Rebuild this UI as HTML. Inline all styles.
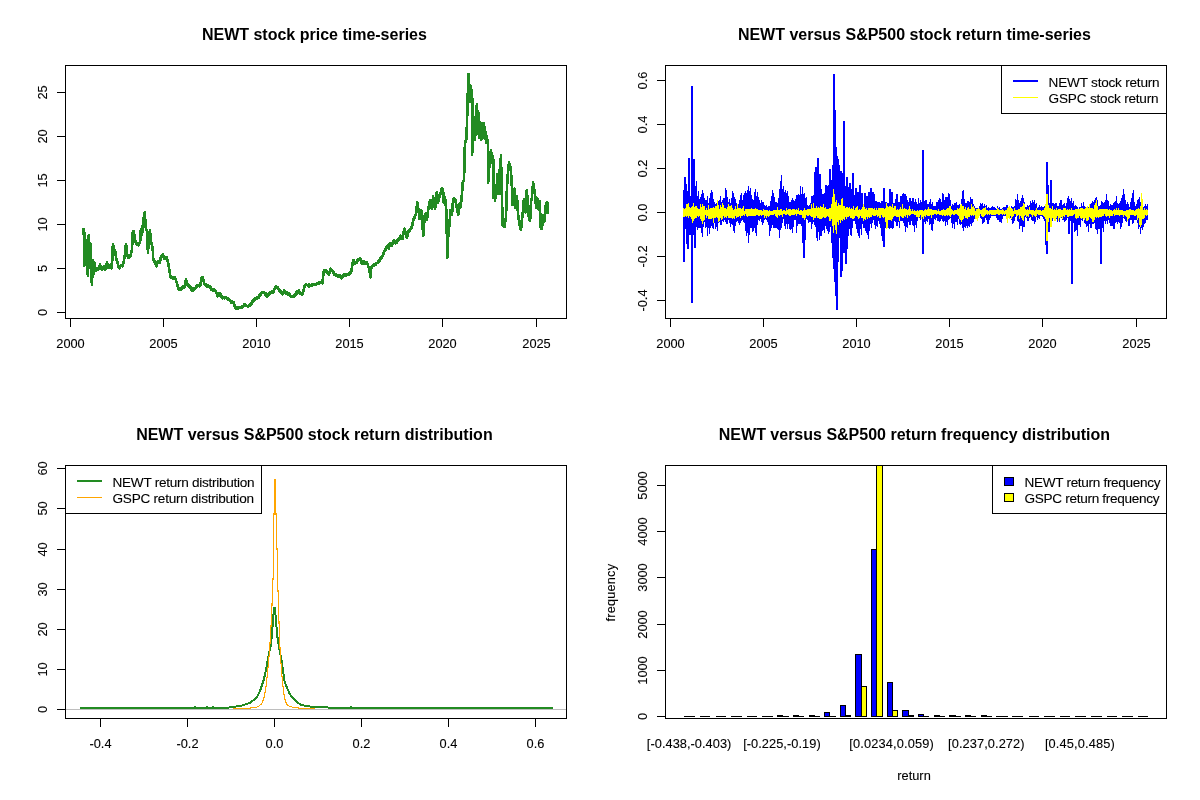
<!DOCTYPE html>
<html><head><meta charset="utf-8"><title>NEWT versus S&amp;P500</title>
<style>html,body{margin:0;padding:0;background:#fff}svg{display:block}text{font-family:"Liberation Sans",sans-serif;fill:#000}.t{font-size:16px;font-weight:bold;text-anchor:middle}.a{font-size:12.8px;text-anchor:middle;stroke:#000;stroke-width:.1px}.l{font-size:13.6px;stroke:#000;stroke-width:.1px}.bx{fill:none;stroke:#000;stroke-width:1}.tk{stroke:#000;stroke-width:1;fill:none}</style></head><body>
<svg width="1200" height="800" viewBox="0 0 1200 800" shape-rendering="crispEdges">
<rect width="1200" height="800" fill="#fff"/>
<g>
<text class="t" x="314.4" y="39.5">NEWT stock price time-series</text>
<path d="M83.8,227.8 83.8,228.5 83.8,229.2 83.8,229.9 83.8,230.6 83.8,231.3 83.8,232 83.8,232.7 83.8,233.4 83.8,234.1 83.8,234.8 83.9,235.5 83.9,236.2 83.9,236.9 83.9,237.6 83.9,238.3 83.9,239 83.9,239.7 83.9,240.4 83.9,241.1 83.9,241.8 83.9,242.5 84,243.2 84,243.9 84,244.6 84,245.3 84,246 84,246.7 84,247.4 84,248.1 84,248.8 84,249.5 84,250.2 84.1,250.9 84.1,251.6 84.1,252.3 84.1,253 84.1,253.7 84.1,254.4 84.1,255.1 84.1,255.8 84.1,256.5 84.1,257.2 84.1,257.9 84.2,258.6 84.2,259.3 84.2,260 84.2,260.7 84.2,261.4 84.2,262.1 84.2,262.8 84.2,263.5 84.2,264.2 84.2,264.9 84.2,265.6 84.3,264.9 84.3,264.2 84.3,263.5 84.3,262.8 84.3,262.1 84.3,261.4 84.4,260.7 84.4,260 84.4,259.3 84.4,258.6 84.4,257.9 84.4,257.1 84.5,256.4 84.5,255.7 84.5,255 84.5,254.3 84.5,253.6 84.5,252.9 84.6,252.2 84.6,251.5 84.6,250.8 84.6,250.1 84.6,249.4 84.6,248.7 84.7,248 84.7,247.3 84.7,246.5 84.7,245.8 84.7,245.1 84.7,244.4 84.8,243.7 84.8,243 84.8,242.3 84.8,241.6 84.8,240.9 84.8,240.2 84.9,239.5 84.9,238.8 84.9,238.1 84.9,237.4 84.9,236.7 84.9,236 85,235.2 85,234.5 85,233.8 85,233.1 85,233.8 85,234.5 85.1,235.3 85.1,236 85.1,236.7 85.1,237.4 85.1,238.1 85.1,238.8 85.2,239.5 85.2,240.2 85.2,241 85.2,241.7 85.2,242.4 85.2,243.1 85.3,243.8 85.3,244.5 85.3,245.2 85.3,245.9 85.3,246.7 85.3,247.4 85.4,248.1 85.4,248.8 85.4,249.5 85.4,250.2 85.4,250.9 85.5,251.6 85.5,252.4 85.5,253.1 85.5,253.8 85.5,254.5 85.5,255.2 85.6,255.9 85.6,256.6 85.6,257.3 85.6,258.1 85.6,258.8 85.6,259.5 85.7,260.2 85.7,260.9 85.7,261.6 85.7,262.3 85.7,263 85.8,263.8 85.8,263 85.8,262.3 85.8,261.6 85.8,260.9 85.8,260.2 85.8,259.5 85.9,258.8 85.9,258.1 85.9,257.4 85.9,256.7 85.9,256 85.9,255.3 86,254.6 86,253.9 86,253.2 86,252.5 86,251.8 86,251.1 86,250.4 86.1,249.7 86.1,249 86.1,248.3 86.1,247.6 86.1,246.9 86.1,246.2 86.2,245.5 86.2,244.8 86.2,244.1 86.2,243.4 86.2,242.7 86.2,242 86.2,241.2 86.3,242 86.3,242.7 86.3,243.4 86.3,244.1 86.3,244.8 86.3,245.6 86.4,246.3 86.4,247 86.4,247.7 86.4,248.4 86.4,249.2 86.4,249.9 86.4,250.6 86.5,251.3 86.5,252 86.5,252.8 86.5,253.5 86.5,254.2 86.5,254.9 86.6,255.6 86.6,256.4 86.6,257.1 86.6,257.8 86.6,258.5 86.6,259.2 86.6,260 86.7,260.7 86.7,261.4 86.7,262.1 86.7,262.8 86.7,263.6 86.7,264.3 86.8,265 86.8,265.7 86.9,266.4 87,267.1 87.1,267.8 87.2,268.5 87.2,269.2 87.3,270 87.4,270.7 87.5,271.4 87.6,272.1 87.7,272.8 87.8,273.5 87.8,274.2 87.9,274.9 88,275.6 88,274.9 88,274.2 88,273.5 88.1,272.8 88.1,272.1 88.1,271.4 88.1,270.7 88.1,270 88.1,269.3 88.1,268.6 88.1,267.9 88.2,267.2 88.2,266.5 88.2,265.8 88.2,265.1 88.2,264.4 88.2,263.7 88.2,263 88.2,262.3 88.3,261.6 88.3,260.9 88.3,260.2 88.3,259.5 88.3,258.8 88.3,258.1 88.3,257.4 88.3,256.7 88.4,256 88.4,255.3 88.4,254.6 88.4,253.9 88.4,253.2 88.4,252.5 88.4,251.8 88.5,251.1 88.5,250.4 88.5,249.7 88.5,249 88.5,248.3 88.5,247.6 88.5,246.9 88.5,246.2 88.6,245.5 88.6,244.8 88.6,244.1 88.6,243.4 88.6,242.7 88.6,242 88.6,241.3 88.6,240.6 88.7,239.9 88.7,239.2 88.7,238.5 88.7,237.8 88.7,237.1 88.7,236.4 88.7,235.7 88.8,235 88.8,235.7 88.8,236.4 88.8,237.1 88.8,237.8 88.8,238.5 88.8,239.2 88.9,239.9 88.9,240.7 88.9,241.4 88.9,242.1 88.9,242.8 88.9,243.5 89,244.2 89,244.9 89,245.6 89,246.3 89,247 89,247.7 89.1,248.4 89.1,249.1 89.1,249.8 89.1,250.5 89.1,251.2 89.1,252 89.2,252.7 89.2,253.4 89.2,254.1 89.2,254.8 89.2,255.5 89.2,256.2 89.3,256.9 89.3,257.6 89.3,258.3 89.3,259 89.3,259.7 89.3,260.4 89.4,261.1 89.4,261.8 89.4,262.6 89.4,263.3 89.4,264 89.4,264.7 89.5,265.4 89.5,266.1 89.5,266.8 89.5,267.5 89.5,266.8 89.5,266.1 89.6,265.3 89.6,264.6 89.6,263.9 89.6,263.2 89.7,262.5 89.7,261.8 89.7,261 89.7,260.3 89.7,259.6 89.8,258.9 89.8,258.2 89.8,257.5 89.8,256.7 89.9,256 89.9,255.3 89.9,254.6 89.9,253.9 89.9,253.2 90,252.4 90,251.7 90,251 90,250.3 90.1,249.6 90.1,248.9 90.1,248.1 90.1,247.4 90.1,246.7 90.2,246 90.2,245.3 90.2,244.6 90.2,243.8 90.2,243.1 90.3,243.8 90.3,244.5 90.3,245.2 90.3,246 90.3,246.7 90.4,247.4 90.4,248.1 90.4,248.8 90.4,249.5 90.4,250.2 90.5,250.9 90.5,251.6 90.5,252.3 90.5,253 90.5,253.7 90.6,254.4 90.6,255.1 90.6,255.9 90.6,256.6 90.6,257.3 90.7,258 90.7,258.7 90.7,259.4 90.7,260.1 90.7,260.8 90.8,261.5 90.8,262.2 90.8,262.9 90.8,263.6 90.8,264.3 90.9,265 90.9,265.8 90.9,266.5 90.9,267.2 90.9,267.9 91,268.6 91,269.3 91,270 91,270.7 91.1,271.4 91.1,272.1 91.2,272.9 91.2,273.6 91.3,274.3 91.3,275 91.4,275.7 91.4,276.4 91.5,277.1 91.5,277.9 91.6,278.6 91.6,279.3 91.7,280 91.7,280.7 91.8,281.4 91.8,282.1 91.9,282.9 91.9,283.6 92,284.3 92,285 92,284.3 92,283.6 92,282.9 92.1,282.1 92.1,281.4 92.1,280.7 92.1,280 92.1,279.3 92.1,278.6 92.1,277.9 92.2,277.1 92.2,276.4 92.2,275.7 92.2,275 92.2,274.3 92.2,273.6 92.2,272.9 92.3,272.1 92.3,271.4 92.3,270.7 92.3,270 92.3,269.3 92.3,268.6 92.3,267.9 92.4,267.1 92.4,266.4 92.4,265.7 92.4,265 92.4,264.3 92.4,263.6 92.4,262.9 92.5,262.1 92.5,261.4 92.5,260.7 92.5,260 92.5,260.7 92.6,261.4 92.7,262.2 92.7,262.9 92.8,263.6 92.8,264.3 92.8,265 92.9,265.8 93,266.5 93,267.2 93,267.9 93.1,268.6 93.2,269.3 93.2,270.1 93.2,270.8 93.3,271.5 93.3,272.2 93.4,272.9 93.5,273.7 93.5,274.4 93.5,273.6 93.6,272.9 93.6,272.1 93.7,271.4 93.7,270.7 93.8,269.9 93.8,269.2 93.9,268.4 93.9,267.7 94,267 94,266.2 94.1,265.5 94.1,264.7 94.2,264 94.2,263.2 94.2,262.5 94.3,263.2 94.4,264 94.5,264.7 94.6,265.5 94.7,266.2 94.8,266.9 94.9,267.7 95,268.4 95.1,269.1 95.2,269.9 95.2,270.6 95.7,270.5 96.1,268.7 96.5,269.3 96.9,268.1 97.3,268.1 97.7,270.1 98.1,270 98.4,269.3 98.6,268.6 98.8,267.9 99.1,267.2 99.3,266.5 99.5,265.8 99.8,265.1 100,264.4 100.2,265.1 100.5,265.8 100.7,266.5 100.9,267.2 101.2,267.9 101.4,268.6 101.6,269.3 101.9,270 102.2,268.9 102.6,268.9 103,266.9 103.4,267.5 103.8,266.2 104.1,266.4 104.5,268.4 104.9,267.5 105.2,269.6 105.6,269.4 105.8,268.6 105.9,267.9 106,267.1 106.2,266.4 106.3,265.6 106.5,264.9 106.6,264.1 106.7,263.4 106.9,262.6 107,261.9 107.1,262.6 107.2,263.3 107.4,264 107.5,264.7 107.6,265.3 107.8,266 107.9,266.7 108,267.4 108.1,268.1 108.5,266.9 108.9,267.6 109.2,265.8 109.6,266.3 110,265 110.4,264.8 110.8,266.9 111.1,266.1 111.5,268.2 111.9,268.1 111.9,267.4 111.9,266.7 112,265.9 112,265.2 112,264.5 112,263.8 112,263.1 112.1,262.3 112.1,261.6 112.1,260.9 112.2,260.1 112.2,259.4 112.2,258.7 112.2,258 112.2,257.2 112.3,256.5 112.3,255.8 112.3,255.1 112.3,254.3 112.4,253.6 112.4,252.9 112.4,252.2 112.5,251.4 112.5,250.7 112.5,250 112.6,249.2 112.6,248.4 112.7,247.7 112.8,246.9 112.8,246.1 112.9,245.3 112.9,244.5 113,243.8 113.1,244.4 113.2,245.1 113.3,245.8 113.4,246.5 113.6,247.2 113.7,247.9 113.8,248.6 113.9,249.3 114,250 114.6,250.2 115.2,251.2 115.3,252 115.5,252.8 115.5,253.5 115.7,254.2 115.8,255 115.8,255.8 116,256.5 116,257.2 116.2,258 116.2,258.8 116.5,259.5 116.8,260.2 117,261 117.2,261.8 117.5,262.5 117.7,263.2 117.8,263.9 118,264.6 118.1,265.3 118.3,266 118.4,266.7 118.6,267.4 118.8,268.1 119.2,268.3 119.7,266.2 120.2,266.8 120.6,265.6 121.6,265.6 122.5,266.2 122.7,265.5 122.9,264.8 123.1,264.1 123.3,263.3 123.5,262.6 123.8,261.9 123.9,261.1 124,260.4 124.1,259.7 124.2,258.9 124.3,258.2 124.4,257.4 124.5,256.7 124.7,256 124.8,255.2 124.9,254.5 125,253.8 125.1,253 125.1,252.3 125.2,251.6 125.3,250.9 125.4,250.2 125.4,249.5 125.5,248.8 125.6,248 125.6,247.3 125.7,246.6 125.8,245.9 125.9,245.2 125.9,244.5 126,243.8 126.1,244.5 126.2,245.2 126.2,245.9 126.3,246.6 126.4,247.3 126.5,248 126.5,248.7 126.6,249.4 126.7,250.1 126.8,250.8 126.9,251.5 126.9,252.2 127,252.9 127.1,253.6 127.2,254.3 127.2,255 127.6,256.6 128,255.9 128.4,258.1 128.8,258.1 129.1,256.7 129.5,257.6 129.9,255.4 130.2,256.2 130.6,255 130.8,254.3 131,253.6 131.2,252.9 131.3,252.1 131.5,251.4 131.7,250.7 131.9,250 131.9,249.3 131.9,248.6 132,247.9 132,247.2 132.1,246.5 132.1,245.8 132.1,245.1 132.2,244.4 132.2,243.7 132.2,243 132.3,242.3 132.3,241.6 132.3,240.9 132.4,240.2 132.4,239.5 132.4,238.8 132.5,238.1 132.5,237.4 132.5,236.7 132.6,236 132.6,235.3 132.6,234.6 132.7,233.9 132.7,233.2 132.8,232.5 133.2,231.1 133.8,231.2 133.8,232 133.9,232.8 134.1,233.5 134.2,234.2 134.2,235 134.3,235.8 134.4,236.5 134.6,237.2 134.7,238 134.8,238.8 135,239.5 135.2,240.2 135.4,240.9 135.6,241.6 135.8,242.3 136,243 136.2,243.8 136.9,244.8 137.5,243.7 138.1,245 138.8,245.2 139.4,243.3 140,243.1 140,242.4 140.1,241.7 140.1,241 140.2,240.2 140.2,239.5 140.3,238.8 140.3,238.1 140.4,237.3 140.4,236.6 140.5,235.9 140.5,235.2 140.6,234.4 140.6,233.7 140.6,233 140.7,232.3 140.7,231.5 140.8,230.8 140.8,230.1 140.9,229.4 141,230.1 141.1,230.8 141.2,231.5 141.4,232.2 141.5,232.9 141.6,233.6 141.8,234.3 141.9,235 141.9,234.3 142,233.6 142.1,232.9 142.2,232.2 142.2,231.5 142.3,230.8 142.4,230.1 142.4,229.3 142.5,228.6 142.6,227.9 142.7,227.2 142.7,226.5 142.8,225.8 142.9,225.1 142.9,224.4 143,223.7 143.1,223 143.1,222.3 143.2,221.6 143.3,220.9 143.4,220.2 143.4,219.5 143.5,218.8 143.6,218 143.8,217.2 143.9,216.5 144.1,215.7 144.2,214.9 144.3,214.2 144.5,213.4 144.6,212.6 144.8,211.9 144.8,212.6 144.8,213.3 144.9,214 144.9,214.7 144.9,215.4 145,216.1 145,216.8 145.1,217.6 145.1,218.3 145.1,219 145.2,219.7 145.2,220.4 145.3,221.1 145.3,221.8 145.3,222.5 145.4,223.2 145.4,223.9 145.5,224.7 145.5,225.4 145.5,226.1 145.6,226.8 145.6,227.5 145.9,228.2 146.1,229 146.4,229.8 146.6,230.5 146.9,231.2 146.9,232 146.9,232.7 147,233.4 147,234.1 147.1,234.8 147.1,235.5 147.1,236.2 147.2,236.9 147.2,237.6 147.2,238.3 147.3,239 147.3,239.8 147.4,240.5 147.4,241.2 147.4,241.9 147.5,242.6 147.5,243.3 147.6,244 147.6,244.7 147.6,245.4 147.7,246.1 147.7,246.8 147.7,247.5 147.8,248.2 147.8,249 147.8,249.7 147.9,250.4 147.9,251.1 148,251.8 148,252.5 148,251.8 148.1,251.1 148.1,250.4 148.1,249.6 148.2,248.9 148.2,248.2 148.2,247.5 148.3,246.8 148.3,246.1 148.4,245.4 148.4,244.6 148.4,243.9 148.5,243.2 148.5,242.5 148.5,241.8 148.6,241.1 148.6,240.4 148.6,239.6 148.7,238.9 148.7,238.2 148.8,237.5 148.9,236.8 149,236 149.1,235.2 149.2,234.5 149.4,233.8 149.5,233 149.6,232.2 149.8,231.5 149.9,230.8 150,230 150,230.7 150.1,231.4 150.1,232.1 150.1,232.8 150.2,233.5 150.2,234.2 150.2,234.9 150.2,235.6 150.3,236.3 150.3,237 150.3,237.7 150.4,238.4 150.4,239.1 150.4,239.8 150.5,240.5 150.5,241.2 150.8,242.5 151.2,242.4 151.5,243.8 151.8,244.5 152,245.2 152.2,246 152.5,246.8 152.8,247.5 152.8,248.2 152.8,248.9 152.8,249.6 152.8,250.3 152.9,251 152.9,251.7 152.9,252.4 152.9,253.1 153,253.8 153,254.5 153,255.2 153,255.9 153.1,256.6 153.1,257.3 153.1,258 153.1,258.8 153.5,260.4 153.9,259.7 154.2,261.7 154.6,261.2 155,262.5 155.2,263.2 155.5,264 155.8,264.8 156,265.5 156.2,266.2 156.5,266.2 156.8,264.3 157.1,264.7 157.3,262.7 157.6,263.4 157.9,261.1 158.1,261.2 158.8,262.4 159.4,261.2 160,262.5 160.1,261.8 160.2,261.1 160.3,260.4 160.4,259.7 160.6,259 160.7,258.3 160.8,257.6 160.9,256.9 161,256.2 161.8,256.4 162.5,255 162.9,254.7 163.2,257 163.6,256.4 164,258.3 164.4,258.1 165.2,257 166,258.6 166.9,257.5 167.1,258.2 167.2,258.9 167.4,259.6 167.6,260.4 167.8,261.1 167.9,261.8 168.1,262.5 168.2,263.2 168.4,264 168.5,264.8 168.6,265.5 168.8,266.2 168.9,267 169,267.8 169.1,268.5 169.2,269.2 169.4,270 169.5,270.8 169.6,271.5 169.8,272.2 169.9,273 170,273.8 170.1,274.5 170.2,275.2 170.4,276 170.5,276.8 170.6,277.5 171.6,277.1 172.5,278.1 173.3,278.7 174.2,277.2 175,277.5 175.2,278.2 175.5,279 175.8,279.8 176,280.5 176.2,281.2 176.5,281.9 176.7,282.6 176.9,283.3 177.1,284 177.3,284.7 177.5,285.4 177.7,286.1 177.9,286.8 178.1,287.5 178.6,288.9 179.1,288.1 179.5,289.9 180,290 180.5,289.1 181,289.8 181.5,287.6 182,288.4 182.5,287.5 183.3,286.5 184.2,287.7 185,286.9 185.1,286.1 185.2,285.4 185.3,284.6 185.4,283.9 185.5,283.1 185.6,282.4 185.7,281.6 185.8,280.9 185.9,280.1 186,279.4 186.2,280.1 186.5,280.8 186.8,281.6 187,282.3 187.2,283 187.5,283.8 187.9,283.9 188.3,285.5 188.8,284.8 189.2,287.1 189.6,286.5 190,287.5 190,286.2 190.4,287.6 190.7,287.1 191.1,288.9 191.4,288.2 191.8,290.2 192.1,289.1 192.5,290.6 193,290.7 193.5,288.7 194.1,289.6 194.6,288.1 195.1,288.7 195.6,287.5 196.1,286.6 196.6,287 197.1,285.4 197.6,286.2 198.1,285 198.8,285 199.4,286.2 200,286.2 200.2,285.5 200.3,284.8 200.5,284.1 200.6,283.3 200.8,282.6 200.9,281.9 201.1,281.1 201.2,280.4 201.4,279.7 201.6,279 201.7,278.2 201.9,277.5 202.5,277.3 203.1,278.8 203.3,279.5 203.5,280.2 203.7,280.9 203.8,281.6 204,282.3 204.2,283 204.4,283.8 204.9,284.8 205.4,283.9 205.9,286.1 206.4,285.2 206.9,286.2 207.7,286.9 208.4,285.6 209.2,287 210,286.2 210.4,286.3 210.8,288.4 211.1,287.8 211.5,290.1 211.9,290 212.6,289.5 213.4,290.8 214.1,289.6 214.9,291 215.6,290.6 215.9,291.3 216.1,292 216.3,292.7 216.6,293.4 216.8,294.1 217,294.8 217.3,295.5 217.5,296.2 218,295.1 218.5,295.9 219,293.7 219.5,294.4 220,293.1 220.3,293.5 220.6,295.2 220.9,294.6 221.2,296.4 221.6,296.1 221.9,297.5 222.7,298.2 223.4,297.1 224.2,298.2 225,297.5 225.8,297.1 226.7,298.6 227.5,298.1 228,298.1 228.5,299.9 229,298.9 229.5,300.5 230,300.6 230.5,300.7 231,302.4 231.5,301.2 232,303.1 232.5,303.1 233.1,301.9 233.8,301.9 233.9,302.6 234.1,303.3 234.2,304 234.4,304.7 234.5,305.4 234.7,306.1 234.8,306.8 235,307.5 235.8,308.4 236.7,307.4 237.5,308.1 238.3,308.5 239.2,307.2 240,307.5 240.8,307.9 241.6,306.5 242.3,307.6 243.1,306.9 243.5,305.5 244,306 244.4,304.4 245,304.5 245.6,306 246.2,305 246.9,306.2 247.8,306.5 248.8,305.6 249.6,304.7 250.4,305.6 251.2,304.4 251.6,303.1 252,303.3 252.4,301.5 252.8,302.1 253.1,300.6 253.8,299.7 254.4,300.2 255,298.7 255.6,298.8 256.5,299.1 257.3,297.3 258.1,297.5 258.5,297.7 258.9,295.8 259.2,296.2 259.6,294.3 260,294.4 260.5,294.7 261,292.8 261.5,293.4 262,291.9 262.5,291.9 263.3,292.9 264.2,292.2 265,293.1 265.4,294.5 265.8,293.6 266.1,295.5 266.5,295.1 266.9,296.2 267.3,296.4 267.8,294.3 268.3,295.2 268.8,293.8 269.6,292.8 270.4,293.3 271.2,292.5 272.1,291.6 272.9,292.5 273.8,291.2 274,290.5 274.2,289.8 274.5,289 274.8,288.2 275,287.5 275.9,286.7 276.9,286.9 277.3,288 277.8,287.5 278.3,289.3 278.8,289.4 279.2,289.4 279.8,291.5 280.2,290.8 280.8,292.2 281.2,292.5 281.9,292 282.5,294.2 283.1,293.8 283.4,292.1 283.8,292.8 284.1,290.5 284.4,290.6 284.8,292.1 285.3,291.4 285.8,293.3 286.2,293.1 287.1,292.5 287.9,294.3 288.8,293.8 289.2,293.7 289.7,295.5 290.2,295.1 290.6,296.2 291.5,296.7 292.3,295.9 293.1,296.2 293.8,296.5 294.4,294.8 295,295.6 295.6,294.4 296,293.4 296.4,294 296.8,291.8 297.1,292.7 297.5,291.2 298.8,290.6 299.1,290.4 299.5,292.7 299.9,291.8 300.2,293.5 300.6,293.8 301.2,293.6 301.9,295 302.3,294.6 302.7,292.8 303.1,292.5 303.3,291.8 303.4,291.1 303.5,290.4 303.7,289.7 303.8,289 304,288.3 304.1,287.6 304.2,286.9 304.4,286.2 305,286.3 305.6,284.4 306.2,284.4 307.2,285.3 308.1,285 308.8,284.5 309.4,286.5 310,286.2 310.6,285.3 311.2,286 311.9,284.3 312.5,285.4 313.1,284.4 314.1,283.9 315,285 315.8,285.1 316.7,283.7 317.5,283.8 318.3,284.1 319.1,282.3 319.8,283.3 320.6,282.5 321.6,282 322.5,283.1 322.6,282.4 322.6,281.7 322.7,281 322.8,280.3 322.8,279.6 322.9,278.9 322.9,278.2 323,277.5 323.1,276.8 323.1,276.1 323.2,275.4 323.2,274.7 323.3,274 323.4,273.3 323.4,272.6 323.5,271.9 324,272.3 324.6,270.1 325.1,271.3 325.6,270 326,270.3 326.4,271.9 326.8,271 327.1,272.9 327.5,273.1 328.1,273.2 328.8,274.4 329.1,274.1 329.4,272.2 329.7,272.6 330,271.2 330,270.4 330,269.6 330,268.8 330.5,268.6 331,270.5 331.5,269.9 332,271.1 332.5,271.2 333,271.4 333.5,272.9 334,272.7 334.5,274.6 335,274.4 335.6,274 336.2,275.7 336.9,275.2 337.5,276.2 338.3,276.6 339.2,275.3 340,275.6 340.5,276.8 340.9,276.2 341.4,278.2 341.9,278.1 342.2,276.9 342.6,277.3 343,275.7 343.4,276.1 343.8,275 344.6,274.3 345.4,275.7 346.2,275 347.1,274.2 347.9,275 348.8,274.4 349.2,273.3 349.8,273.7 350.2,271.8 350.8,272.7 351.2,271.2 351.4,270.5 351.5,269.8 351.6,269 351.8,268.2 351.9,267.5 352,266.8 352.1,266 352.2,265.2 352.4,264.5 352.5,263.8 352.6,263 352.8,262.2 352.9,261.5 353,260.8 353.1,260 353.5,260.2 353.9,262.3 354.2,261.6 354.6,263.6 355,263.8 355.6,262.6 356.2,263.1 356.9,261.9 357.3,260.5 357.8,261.2 358.3,259.3 358.8,259.4 359.4,259.4 360,258.1 360.2,258.8 360.5,259.5 360.7,260.2 360.9,260.9 361.2,261.6 361.4,262.3 361.6,263 361.9,263.8 362.3,262.4 362.7,262.7 363.1,261.2 363.5,261.3 364,263.3 364.4,263.8 365,262.7 365.6,263.5 366.2,262.5 366.9,262.3 367.5,263.8 367.7,264.4 367.9,265.1 368.1,265.8 368.3,266.5 368.5,267.2 368.8,267.9 369,268.6 369.2,269.3 369.4,270 369.5,270.8 369.6,271.5 369.8,272.2 369.9,273 370,273.8 370.1,274.5 370.2,275.2 370.4,276 370.5,276.8 370.6,277.5 370.7,276.8 370.7,276.1 370.8,275.4 370.8,274.6 370.8,273.9 370.9,273.2 370.9,272.5 371,271.8 371,271.1 371.1,270.4 371.1,269.6 371.2,268.9 371.2,268.2 371.2,267.5 371.7,267.7 372.1,265.7 372.5,265.6 373.3,266.1 374.2,264 375,264.4 375.8,264.5 376.7,262.9 377.5,263.1 377.9,262.9 378.3,261.1 378.8,262 379.2,259.8 379.6,260.8 380,259.4 380.5,258 381,258.9 381.5,256.8 382,257.3 382.5,256.2 382.8,254.9 383,255.2 383.3,253.7 383.6,254.2 383.8,252.3 384.1,252.4 384.4,251.2 384.8,250.2 385.1,250.8 385.5,248.9 385.9,249.1 386.2,248.1 386.7,246.5 387.1,246.9 387.5,245.6 387.8,245.6 388.1,247.9 388.4,247.2 388.8,248.8 388.9,248 389.1,247.3 389.2,246.6 389.4,245.9 389.5,245.2 389.7,244.5 389.8,243.8 390,243.1 390.5,244.6 390.9,243.7 391.4,245.8 391.9,245.6 392.1,244.9 392.3,244.2 392.6,243.5 392.8,242.8 393,242.1 393.3,241.4 393.5,240.7 393.8,240 394.1,240.2 394.5,242 394.9,241.2 395.2,243.2 395.6,243.1 396.1,242.1 396.6,242.6 397,240.4 397.5,240.6 398.1,240.4 398.8,238.8 399.4,238.8 399.7,238.6 400,236.4 400.3,236.9 400.6,235.6 401,235.8 401.4,237.4 401.8,236.8 402.1,238.9 402.5,238.8 402.6,238 402.8,237.3 402.9,236.6 403,235.9 403.2,235.2 403.3,234.5 403.4,233.8 403.6,233 403.7,232.3 403.8,231.6 404,230.9 404.1,230.2 404.2,229.5 404.4,228.8 404.6,229.5 404.9,230.2 405.1,231 405.4,231.8 405.6,232.5 405.8,233.2 405.9,233.9 406.1,234.6 406.2,235.3 406.4,236 406.6,236.7 406.7,237.4 406.9,238.1 407,237.4 407.2,236.7 407.3,236 407.4,235.3 407.6,234.7 407.7,234 407.8,233.3 408,232.6 408.1,231.9 408.8,230.7 409.4,231.2 410,230 410.5,228.8 410.9,229.3 411.4,227.5 411.9,227.5 412,226.8 412.1,226 412.2,225.2 412.4,224.5 412.5,223.8 412.6,223 412.8,222.2 412.9,221.5 413,220.8 413.1,220 413.5,219.8 413.9,218.1 414.2,219 414.6,216.9 415,216.9 415.2,216.1 415.4,215.4 415.6,214.7 415.8,214 416,213.2 416.2,212.5 416.3,211.8 416.4,211.1 416.5,210.4 416.5,209.6 416.6,208.9 416.7,208.2 416.8,207.5 416.8,206.8 416.9,206.1 417,205.4 417,204.6 417.1,203.9 417.2,203.2 417.2,202.5 417.4,203.2 417.5,204 417.6,204.8 417.8,205.5 417.9,206.2 418,207 418.1,207.8 418.2,208.5 418.4,209.2 418.5,210 418.6,210.7 418.6,211.5 418.7,212.2 418.8,212.9 418.9,213.6 418.9,214.4 419,215.1 419.1,215.8 419.2,216.6 419.2,217.3 419.3,218 419.4,218.8 420,217.5 420.1,216.8 420.2,216 420.3,215.2 420.4,214.5 420.5,213.8 420.6,213 420.7,212.2 420.8,211.5 420.9,210.8 421,210 421.2,210.7 421.4,211.4 421.5,212.1 421.7,212.9 421.9,213.6 422.1,214.3 422.2,215 422.3,215.7 422.3,216.4 422.3,217.1 422.4,217.8 422.4,218.5 422.4,219.2 422.5,220 422.5,220.7 422.5,221.4 422.5,222.1 422.6,222.8 422.6,223.5 422.6,224.2 422.7,224.9 422.7,225.6 422.7,226.3 422.7,227 422.8,227.8 422.8,228.5 422.8,229.2 422.9,229.9 422.9,230.6 422.9,231.3 422.9,232 423,232.7 423,233.4 423,234.1 423.1,234.8 423.1,235.5 423.1,236.2 423.2,235.5 423.2,234.8 423.3,234.1 423.3,233.4 423.4,232.7 423.5,232 423.5,231.3 423.6,230.6 423.6,229.9 423.7,229.2 423.7,228.5 423.8,227.8 423.8,227.1 423.9,226.4 423.9,225.7 424,224.9 424,224.2 424.1,223.5 424.2,222.8 424.2,222.1 424.3,221.4 424.3,220.7 424.4,220 424.5,219.3 424.7,218.6 424.8,217.9 424.9,217.2 425.1,216.5 425.2,215.8 425.3,215.1 425.5,214.4 425.6,213.8 425.8,214.4 425.9,215.1 426,215.8 426.2,216.5 426.3,217.2 426.5,217.9 426.6,218.6 426.7,219.3 426.9,220 427,219.3 427.1,218.6 427.1,217.9 427.2,217.1 427.3,216.4 427.4,215.7 427.5,215 427.6,214.3 427.7,213.6 427.8,212.9 427.9,212.1 427.9,211.4 428,210.7 428.1,210 428.3,209.3 428.4,208.6 428.5,207.9 428.7,207.1 428.8,206.4 428.9,205.7 429.1,205 429.2,204.3 429.3,203.6 429.5,202.9 429.6,202.1 429.7,201.4 429.9,200.7 430,200 430.2,200.7 430.3,201.5 430.5,202.2 430.6,202.9 430.8,203.6 430.9,204.4 431.1,205.1 431.2,205.8 431.4,206.6 431.6,207.3 431.7,208 431.9,208.8 431.9,208 432,207.3 432.1,206.5 432.2,205.8 432.2,205.1 432.3,204.3 432.4,203.6 432.5,202.9 432.5,202.1 432.6,201.4 432.7,200.7 432.8,199.9 432.8,199.2 432.9,198.5 433,197.7 433.1,197 433.1,196.2 433.2,196.9 433.3,197.6 433.4,198.3 433.5,199 433.6,199.7 433.8,200.4 433.9,201.1 434,201.8 434.1,202.5 434.2,203.2 434.3,203.9 434.4,204.6 434.5,205.3 434.6,206 434.7,206.7 434.8,207.4 434.9,208.1 435,208.8 435.1,208 435.2,207.3 435.2,206.6 435.3,205.9 435.4,205.2 435.5,204.5 435.5,203.8 435.6,203.1 435.7,202.4 435.8,201.7 435.9,201 435.9,200.3 436,199.6 436.1,198.9 436.2,198.2 436.2,197.5 436.3,196.8 436.4,196.1 436.5,195.4 436.6,194.7 436.6,194 436.7,193.3 436.8,192.6 436.9,191.9 437,192.6 437,193.3 437.1,194 437.2,194.7 437.3,195.4 437.4,196.1 437.5,196.8 437.5,197.5 437.6,198.2 437.7,199 437.8,199.7 437.9,200.4 438,201.1 438,201.8 438.1,202.5 438.3,201.8 438.5,201.1 438.6,200.5 438.8,199.8 439,199.1 439.1,198.4 439.3,197.7 439.5,197 439.7,196.4 439.8,195.7 440,195 440.2,194.3 440.4,193.6 440.6,192.9 440.8,192.2 440.9,191.6 441.1,190.9 441.3,190.2 441.5,189.5 441.7,188.8 441.9,188.1 442.2,189.7 442.5,189.2 442.8,191.2 443.1,191.2 443.2,192 443.2,192.7 443.2,193.4 443.3,194.1 443.3,194.8 443.4,195.5 443.4,196.2 443.4,196.9 443.5,197.6 443.5,198.3 443.6,199 443.6,199.7 443.6,200.4 443.7,201.1 443.7,201.8 443.8,202.5 443.9,201.8 444.1,201.1 444.3,200.4 444.5,199.6 444.6,198.9 444.8,198.2 445,197.5 445.1,198.2 445.1,199 445.2,199.7 445.3,200.4 445.4,201.2 445.4,201.9 445.5,202.6 445.6,203.4 445.7,204.1 445.7,204.9 445.8,205.6 445.9,206.3 446,207.1 446,207.8 446.1,208.5 446.2,209.3 446.2,210 446.3,210.7 446.3,211.4 446.3,212.1 446.3,212.8 446.4,213.5 446.4,214.2 446.4,214.9 446.4,215.6 446.4,216.3 446.4,217 446.5,217.7 446.5,218.4 446.5,219.1 446.5,219.8 446.6,220.5 446.6,221.2 446.6,221.9 446.6,222.6 446.6,223.3 446.6,224 446.7,224.7 446.7,225.4 446.7,226.1 446.7,226.8 446.8,227.5 446.8,228.2 446.8,228.9 446.8,229.6 446.8,230.4 446.8,231.1 446.8,231.8 446.8,232.5 446.8,233.2 446.9,233.9 446.9,234.6 446.9,235.4 446.9,236.1 446.9,236.8 446.9,237.5 446.9,238.2 446.9,238.9 447,239.6 447,240.4 447,241.1 447,241.8 447,242.5 447,243.2 447,243.9 447,244.6 447,245.4 447.1,246.1 447.1,246.8 447.1,247.5 447.1,248.2 447.1,248.9 447.1,249.6 447.1,250.4 447.1,251.1 447.2,251.8 447.2,252.5 447.2,253.2 447.2,253.9 447.2,254.6 447.2,255.4 447.2,256.1 447.2,256.8 447.2,257.5 447.3,256.8 447.3,256.1 447.3,255.4 447.4,254.7 447.4,254 447.4,253.3 447.5,252.6 447.5,251.9 447.5,251.2 447.6,250.5 447.6,249.8 447.6,249.1 447.7,248.4 447.7,247.7 447.7,247 447.8,246.2 447.8,245.5 447.8,244.8 447.8,244.1 447.9,243.4 447.9,242.7 447.9,242 448,241.3 448,240.6 448,239.9 448.1,239.2 448.1,238.5 448.1,237.8 448.2,237.1 448.2,236.4 448.2,235.7 448.2,235 448.3,234.3 448.4,233.6 448.5,232.9 448.6,232.1 448.7,231.4 448.7,230.7 448.8,230 448.9,229.3 449,228.6 449.1,227.9 449.1,227.1 449.2,226.4 449.3,225.7 449.4,225 449.4,224.3 449.5,223.6 449.6,222.9 449.6,222.1 449.7,221.4 449.7,220.7 449.8,220 449.9,219.3 449.9,218.6 450,217.9 450,217.1 450.1,216.4 450.1,215.7 450.2,215 450.3,214.3 450.3,213.6 450.4,212.9 450.4,212.1 450.5,211.4 450.6,210.7 450.6,210 450.8,210.7 451,211.4 451.2,212.1 451.3,212.9 451.5,213.6 451.7,214.3 451.9,215 451.9,214.3 452,213.6 452.1,212.9 452.1,212.1 452.2,211.4 452.2,210.7 452.3,210 452.4,209.3 452.4,208.6 452.5,207.9 452.5,207.1 452.6,206.4 452.6,205.7 452.7,205 452.8,204.3 452.8,203.6 452.9,202.9 452.9,202.1 453,201.4 453.1,200.7 453.1,200 453.8,198.8 454.4,199.9 455,198.8 455.2,199.5 455.3,200.2 455.5,200.9 455.6,201.7 455.8,202.4 455.9,203.1 456.1,203.9 456.2,204.6 456.4,205.3 456.6,206 456.7,206.8 456.9,207.5 457,208.2 457.1,209 457.2,209.8 457.4,210.5 457.5,211.2 457.6,212 457.8,212.8 457.9,213.5 458,214.2 458.1,215 458.2,214.3 458.3,213.6 458.4,212.9 458.4,212.2 458.5,211.5 458.6,210.8 458.7,210.1 458.8,209.4 458.8,208.7 458.9,208 459,207.3 459.1,206.6 459.1,205.9 459.2,205.2 459.3,204.5 459.4,203.8 459.6,204.5 459.9,205.2 460.1,206 460.4,206.8 460.6,207.5 460.7,206.8 460.8,206 460.8,205.3 460.9,204.6 461,203.8 461.1,203.1 461.1,202.4 461.2,201.6 461.3,200.9 461.4,200.1 461.4,199.4 461.5,198.7 461.6,197.9 461.7,197.2 461.7,196.5 461.8,195.7 461.9,195 461.9,194.3 462,193.5 462,192.8 462.1,192.1 462.1,191.3 462.2,190.6 462.2,189.9 462.3,189.1 462.3,188.4 462.4,187.6 462.4,186.9 462.5,186.2 462.5,185.4 462.6,184.7 462.6,184 462.7,183.2 462.8,182.5 463.2,181 463.6,181.5 464,180 464,179.3 464,178.6 464,177.9 464.1,177.2 464.1,176.5 464.1,175.8 464.1,175.1 464.1,174.4 464.1,173.7 464.1,173 464.2,172.3 464.2,171.6 464.2,170.9 464.2,170.2 464.2,169.5 464.2,168.8 464.3,168.1 464.3,167.4 464.3,166.7 464.3,166 464.3,165.3 464.3,164.6 464.3,163.9 464.4,163.2 464.4,162.5 464.4,161.8 464.4,161.1 464.4,160.4 464.5,159.6 464.5,158.9 464.5,158.2 464.5,157.5 464.6,156.8 464.6,156.1 464.6,155.4 464.6,154.6 464.6,153.9 464.7,153.2 464.7,152.5 464.7,151.8 464.7,151.1 464.8,150.4 464.8,149.6 464.8,148.9 464.8,148.2 464.8,147.5 464.9,146.8 464.9,146.1 464.9,145.4 464.9,144.6 465,143.9 465,143.2 465,142.5 465.3,141 465.6,141.8 465.9,139.8 466.2,139.9 466.5,138.8 466.5,138 466.5,137.3 466.6,136.6 466.6,135.9 466.6,135.2 466.6,134.5 466.6,133.8 466.7,133.1 466.7,132.4 466.7,131.7 466.7,131 466.8,130.2 466.8,129.5 466.8,128.8 466.8,128.1 466.8,127.4 466.9,126.7 466.9,126 466.9,125.3 466.9,124.6 466.9,123.9 467,123.2 467,122.5 467,121.8 467,121 467,120.3 467.1,119.6 467.1,118.9 467.1,118.2 467.1,117.5 467.1,116.8 467.2,116.1 467.2,115.4 467.2,114.7 467.2,114 467.2,113.2 467.3,112.5 467.3,111.8 467.3,111.1 467.3,110.4 467.4,109.7 467.4,109 467.4,108.3 467.4,107.6 467.4,106.9 467.5,106.2 467.5,105.5 467.5,104.8 467.5,104 467.5,103.3 467.6,102.6 467.6,101.9 467.6,101.2 467.6,100.5 467.6,99.8 467.7,99.1 467.7,98.4 467.7,97.7 467.7,97 467.8,96.2 467.8,95.5 467.8,94.8 467.8,94.1 467.8,93.4 467.9,92.7 467.9,92 467.9,91.3 467.9,90.6 468,89.9 468,89.2 468,88.5 468,87.8 468.1,87.1 468.1,86.4 468.1,85.7 468.1,85 468.2,84.3 468.2,83.5 468.2,82.8 468.2,82.1 468.3,81.4 468.3,80.7 468.3,80 468.3,79.3 468.4,78.6 468.4,77.9 468.4,77.2 468.4,76.5 468.5,75.8 468.5,75.1 468.5,74.4 468.5,75.1 468.6,75.8 468.6,76.5 468.7,77.2 468.7,77.9 468.8,78.6 468.8,79.3 468.9,80 468.9,80.7 469,81.4 469,82.1 469.1,82.8 469.1,83.5 469.2,84.2 469.2,84.9 469.2,85.6 469.3,86.3 469.3,87 469.3,87.7 469.3,88.5 469.4,89.2 469.4,89.9 469.4,90.6 469.4,91.3 469.4,92 469.5,92.7 469.5,93.4 469.5,94.1 469.5,94.8 469.6,95.5 469.6,96.2 469.6,96.9 469.6,97.6 469.6,98.3 469.7,99 469.7,99.8 469.7,100.5 469.7,101.2 469.8,101.9 469.8,101.2 469.8,100.5 469.9,99.7 469.9,99 469.9,98.3 470,97.6 470,96.9 470,96.2 470.1,95.5 470.1,94.8 470.1,94.1 470.2,93.4 470.2,92.6 470.2,91.9 470.3,91.2 470.3,90.5 470.3,89.8 470.4,89.1 470.4,88.4 470.4,87.7 470.5,87 470.5,86.2 470.5,87 470.6,87.7 470.6,88.4 470.6,89.1 470.7,89.8 470.7,90.5 470.7,91.2 470.8,91.9 470.8,92.6 470.8,93.4 470.9,94.1 470.9,94.8 470.9,95.5 471,96.2 471,96.9 471,97.6 471.1,98.3 471.1,99 471.1,99.7 471.2,100.5 471.2,101.2 471.2,101.9 471.3,101.1 471.3,100.4 471.4,99.6 471.4,98.9 471.5,98.2 471.5,97.4 471.6,96.7 471.6,95.9 471.7,95.2 471.7,94.5 471.8,93.7 471.8,93 471.9,92.2 471.9,91.5 472,90.7 472,90 472,90.7 472,91.5 472,92.2 472.1,92.9 472.1,93.7 472.1,94.4 472.1,95.1 472.1,95.9 472.1,96.6 472.1,97.4 472.2,98.1 472.2,98.8 472.2,99.6 472.2,100.3 472.2,101 472.2,101.8 472.2,102.5 472.2,103.2 472.2,103.9 472.2,104.6 472.2,105.3 472.2,106 472.2,106.7 472.2,107.4 472.2,108.1 472.2,108.8 472.2,109.5 472.2,110.2 472.2,110.9 472.2,111.6 472.2,112.3 472.2,113 472.2,113.7 472.2,114.4 472.2,115.1 472.2,115.8 472.2,116.5 472.2,117.2 472.2,117.9 472.2,118.6 472.2,119.3 472.2,120 472.2,120.7 472.2,121.4 472.2,122.1 472.2,122.8 472.1,123.5 472.1,124.2 472.1,124.9 472.1,125.6 472.1,126.3 472.1,127 472.1,127.7 472.1,128.4 472.1,129.1 472.1,129.8 472.1,130.5 472.1,131.2 472.1,131.9 472.1,132.6 472.1,133.3 472.1,134 472.1,134.7 472.1,135.4 472.1,136.1 472.1,136.8 472.1,137.5 472.1,138.2 472.1,138.9 472.1,139.6 472.1,140.3 472.1,141 472.1,141.7 472.1,142.4 472.1,143.1 472.1,143.8 472.1,144.5 472,145.2 472,145.9 472,146.6 472,147.3 472,148 472,148.7 472,149.4 472,150.1 472,150.8 472,151.5 472,152.2 472,152.9 472,153.6 472,154.3 472,155 472.1,154.3 472.1,153.6 472.2,152.9 472.3,152.1 472.4,151.4 472.4,150.7 472.5,150 472.6,149.3 472.6,148.6 472.7,147.9 472.8,147.1 472.9,146.4 472.9,145.7 473,145 473,144.3 473,143.6 473.1,142.9 473.1,142.2 473.1,141.5 473.1,140.8 473.1,140 473.1,139.3 473.1,138.6 473.2,137.9 473.2,137.2 473.2,136.5 473.2,135.8 473.2,135.1 473.2,134.4 473.3,133.7 473.3,133 473.3,132.2 473.3,131.5 473.3,130.8 473.4,130.1 473.4,129.4 473.4,128.7 473.4,128 473.4,127.3 473.4,126.6 473.4,125.9 473.5,125.2 473.5,124.5 473.5,123.8 473.5,124.5 473.6,125.2 473.6,125.9 473.7,126.6 473.7,127.3 473.8,128 473.8,128.7 473.8,129.4 473.9,130.1 473.9,130.8 474,131.5 474,132.2 474.1,132.9 474.1,133.6 474.2,134.3 474.2,135.1 474.2,135.8 474.3,136.5 474.3,137.2 474.4,137.9 474.4,138.6 474.5,139.3 474.5,140 474.5,139.3 474.5,138.6 474.6,137.9 474.6,137.2 474.6,136.5 474.6,135.8 474.7,135.1 474.7,134.4 474.7,133.7 474.7,133 474.8,132.3 474.8,131.6 474.8,130.9 474.8,130.2 474.9,129.5 474.9,128.8 474.9,128 474.9,127.3 474.9,126.6 475,125.9 475,125.2 475,124.5 475,123.8 475.1,123.1 475.1,122.4 475.1,121.7 475.1,121 475.2,120.3 475.2,119.6 475.2,118.9 475.2,118.2 475.2,117.5 475.3,118.2 475.3,118.9 475.4,119.6 475.4,120.3 475.4,121 475.5,121.7 475.5,122.4 475.6,123.1 475.6,123.8 475.6,124.5 475.7,125.2 475.7,125.9 475.8,126.6 475.8,127.3 475.9,128 475.9,128.7 475.9,129.4 476,130.1 476,130.8 476.1,131.5 476.1,132.2 476.1,132.9 476.2,133.6 476.2,134.3 476.2,135 476.3,134.3 476.3,133.6 476.3,132.9 476.3,132.2 476.3,131.4 476.3,130.7 476.3,130 476.4,129.3 476.4,128.6 476.4,127.9 476.4,127.2 476.4,126.5 476.4,125.8 476.4,125.1 476.5,124.3 476.5,123.6 476.5,122.9 476.5,122.2 476.5,121.5 476.5,120.8 476.5,120.1 476.6,119.4 476.6,118.7 476.6,118 476.6,117.2 476.6,116.5 476.6,115.8 476.6,115.1 476.7,114.4 476.7,113.7 476.7,113 476.7,112.3 476.7,111.6 476.7,110.9 476.7,110.1 476.8,109.4 476.8,108.7 476.8,108 476.8,107.3 476.8,106.6 476.8,105.9 476.8,105.2 476.9,104.5 476.9,103.8 476.9,104.5 476.9,105.2 477,105.9 477,106.6 477,107.3 477.1,108 477.1,108.8 477.1,109.5 477.2,110.2 477.2,110.9 477.2,111.6 477.2,112.3 477.3,113 477.3,113.8 477.3,114.5 477.4,115.2 477.4,115.9 477.4,116.6 477.5,117.3 477.5,118 477.5,118.8 477.6,119.5 477.6,120.2 477.6,120.9 477.7,121.6 477.7,122.3 477.7,123 477.8,123.8 477.8,123 477.9,122.3 477.9,121.6 477.9,120.9 478,120.2 478.1,119.5 478.1,118.8 478.1,118.1 478.2,117.4 478.2,116.7 478.3,116 478.4,115.2 478.4,114.5 478.4,113.8 478.5,113.1 478.5,113.8 478.5,114.6 478.6,115.3 478.6,116 478.6,116.7 478.6,117.4 478.7,118.1 478.7,118.9 478.7,119.6 478.7,120.3 478.7,121 478.8,121.7 478.8,122.4 478.8,123.2 478.8,123.9 478.9,124.6 478.9,125.3 478.9,126 478.9,126.7 478.9,127.5 479,128.2 479,128.9 479,129.6 479,130.3 479.1,131 479.1,131.8 479.1,132.5 479.1,133.2 479.1,133.9 479.2,134.6 479.2,135.3 479.2,136.1 479.2,136.8 479.2,137.5 479.3,136.8 479.3,136.1 479.4,135.4 479.4,134.6 479.5,133.9 479.5,133.2 479.6,132.5 479.6,131.8 479.7,131.1 479.7,130.4 479.8,129.6 479.8,128.9 479.9,128.2 479.9,127.5 480,126.8 480,126.1 480.1,125.4 480.1,124.6 480.2,123.9 480.2,123.2 480.2,122.5 480.3,123.2 480.3,123.9 480.4,124.6 480.4,125.3 480.5,126 480.5,126.7 480.5,127.4 480.6,128.1 480.6,128.8 480.7,129.5 480.7,130.2 480.8,130.9 480.8,131.6 480.8,132.3 480.9,133 480.9,133.8 481,134.5 481,135.2 481,135.9 481.1,136.6 481.1,137.3 481.2,138 481.2,138.7 481.2,139.4 481.3,138.7 481.3,138 481.4,137.3 481.4,136.5 481.5,135.8 481.5,135.1 481.6,134.4 481.6,133.7 481.6,133 481.7,132.3 481.7,131.6 481.8,130.9 481.8,130.2 481.9,129.5 481.9,128.8 481.9,128.1 482,127.4 482,126.7 482.1,126 482.1,125.2 482.2,124.5 482.2,123.8 482.2,123.1 482.3,123.8 482.3,124.6 482.4,125.3 482.4,126 482.5,126.7 482.5,127.4 482.6,128.1 482.6,128.8 482.7,129.6 482.7,130.3 482.8,131 482.8,131.7 482.9,132.4 482.9,133.1 483,133.8 483,134.6 483.1,135.3 483.1,136 483.2,136.7 483.2,137.4 483.2,138.1 483.3,137.4 483.3,136.7 483.4,136 483.4,135.3 483.4,134.6 483.5,133.8 483.5,133.1 483.5,132.4 483.6,131.7 483.6,131 483.6,130.3 483.7,129.6 483.7,128.8 483.8,128.1 483.8,127.4 483.8,126.7 483.9,126 483.9,125.3 483.9,124.6 484,123.8 484,123.1 484,123.8 484.1,124.5 484.1,125.3 484.2,126 484.2,126.7 484.3,127.4 484.3,128.1 484.4,128.8 484.4,129.5 484.5,130.2 484.5,130.9 484.5,131.6 484.6,132.4 484.6,133.1 484.7,133.8 484.7,134.5 484.8,135.2 484.8,135.9 484.9,136.6 484.9,137.3 485,138 485,138.8 485.1,138 485.2,137.2 485.3,136.5 485.4,135.7 485.6,134.9 485.7,134.2 485.8,133.4 485.9,132.6 486,131.9 486,132.6 486.1,133.3 486.1,134 486.1,134.7 486.2,135.4 486.2,136.1 486.2,136.8 486.2,137.5 486.3,138.2 486.3,138.9 486.3,139.6 486.4,140.3 486.4,141 486.4,141.7 486.5,142.4 486.5,143.1 486.9,141.7 487.3,142.7 487.7,140.6 488.1,140.6 488.1,141.3 488.1,142 488.1,142.8 488.1,143.5 488.1,144.2 488.1,144.9 488.1,145.6 488.1,146.3 488.1,147 488.1,147.7 488.1,148.4 488.1,149.1 488.1,149.9 488.1,150.6 488.1,151.3 488.1,152 488.1,152.7 488.1,153.4 488.1,154.1 488.1,154.8 488.1,155.5 488.1,156.2 488.1,156.9 488.1,157.7 488.1,158.4 488.1,159.1 488.1,159.8 488.1,160.5 488.1,161.2 488.1,161.9 488.1,162.6 488.1,163.3 488.1,164 488.1,164.8 488.1,165.5 488.1,166.2 488.1,166.9 488.1,167.6 488.1,168.3 488.1,169 488.1,169.7 488.1,170.4 488.1,171.1 488.1,171.9 488.1,172.6 488.1,173.3 488.1,174 488.1,174.7 488.1,175.4 488.1,176.1 488.1,176.8 488.1,177.5 488.1,178.2 488.1,179 488.1,179.7 488.1,180.4 488.1,181.1 488.1,181.8 488.1,182.5 488.2,181.8 488.2,181.1 488.3,180.4 488.3,179.7 488.4,179 488.4,178.3 488.5,177.6 488.5,176.9 488.6,176.2 488.6,175.5 488.7,174.8 488.7,174.1 488.8,173.4 488.8,172.7 488.9,172 488.9,171.3 489,170.6 489,169.9 489.1,169.2 489.1,168.5 489.2,167.8 489.2,167.1 489.3,166.4 489.3,165.7 489.4,165 489.5,164.3 489.5,163.6 489.6,162.9 489.7,162.1 489.8,161.4 489.8,160.7 489.9,160 490,159.3 490.1,158.6 490.1,157.9 490.2,157.1 490.3,156.4 490.4,155.7 490.5,155 490.5,154.3 490.6,153.6 490.7,152.9 490.8,152.1 490.8,151.4 490.9,150.7 491,150 491.1,150.7 491.1,151.5 491.2,152.2 491.2,152.9 491.3,153.7 491.3,154.4 491.4,155.1 491.4,155.9 491.5,156.6 491.5,157.4 491.6,158.1 491.6,158.8 491.7,159.6 491.7,160.3 491.8,161 491.8,161.8 491.9,162.5 492,161.8 492.2,161.1 492.3,160.4 492.4,159.7 492.6,159 492.7,158.3 492.8,157.6 493,156.9 493.1,156.2 493.1,157 493.1,157.7 493.1,158.4 493.2,159.1 493.2,159.8 493.2,160.5 493.2,161.2 493.2,161.9 493.2,162.7 493.2,163.4 493.2,164.1 493.2,164.8 493.2,165.5 493.2,166.2 493.2,166.9 493.2,167.6 493.2,168.3 493.2,169.1 493.2,169.8 493.3,170.5 493.3,171.2 493.3,171.9 493.3,172.6 493.3,173.3 493.3,174 493.3,174.7 493.3,175.5 493.3,176.2 493.3,176.9 493.3,177.6 493.3,178.3 493.3,179 493.3,179.7 493.3,180.4 493.4,181.1 493.4,181.9 493.4,182.6 493.4,183.3 493.4,184 493.4,184.7 493.4,185.4 493.4,186.1 493.4,186.8 493.4,187.5 493.4,188.3 493.4,189 493.4,189.7 493.4,190.4 493.4,191.1 493.4,191.8 493.5,192.5 493.5,193.2 493.5,193.9 493.5,194.7 493.5,195.4 493.5,196.1 493.5,196.8 493.5,197.5 493.6,196.8 493.6,196.1 493.7,195.4 493.8,194.6 493.9,193.9 493.9,193.2 494,192.5 494.1,191.8 494.1,191.1 494.2,190.4 494.3,189.6 494.4,188.9 494.4,188.2 494.5,187.5 494.5,188.2 494.6,188.9 494.6,189.7 494.6,190.4 494.6,191.1 494.7,191.8 494.7,192.6 494.7,193.3 494.7,194 494.8,194.7 494.8,195.5 494.8,196.2 494.8,196.9 494.9,197.6 494.9,198.4 494.9,199.1 494.9,199.8 495,200.5 495,201.2 495,200.5 495.1,199.8 495.1,199.1 495.2,198.4 495.2,197.6 495.2,196.9 495.3,196.2 495.3,195.5 495.4,194.7 495.4,194 495.4,193.3 495.5,192.6 495.5,191.8 495.6,191.1 495.6,190.4 495.6,189.7 495.7,188.9 495.7,188.2 495.8,187.5 495.8,188.3 495.9,189.1 496,189.8 496.1,190.6 496.2,191.4 496.3,192.2 496.4,193 496.5,193.8 496.5,193 496.6,192.3 496.6,191.6 496.6,190.9 496.6,190.2 496.7,189.5 496.7,188.8 496.7,188 496.7,187.3 496.8,186.6 496.8,185.9 496.8,185.2 496.8,184.5 496.9,183.8 496.9,183 496.9,182.3 497,181.6 497,180.9 497,180.2 497,179.5 497.1,178.8 497.1,178 497.1,177.3 497.1,176.6 497.2,175.9 497.2,175.2 497.2,174.5 497.2,173.8 497.3,174.5 497.3,175.2 497.3,175.9 497.4,176.6 497.4,177.3 497.4,178 497.5,178.8 497.5,179.5 497.5,180.2 497.6,180.9 497.6,181.6 497.6,182.3 497.7,183 497.7,183.8 497.7,184.5 497.8,185.2 497.8,185.9 497.8,186.6 497.8,187.3 497.9,188 497.9,188.8 497.9,189.5 498,190.2 498,190.9 498,191.6 498.1,192.3 498.1,193 498.1,193.8 498.2,193 498.2,192.3 498.2,191.6 498.2,190.9 498.3,190.2 498.3,189.5 498.3,188.8 498.3,188.1 498.4,187.4 498.4,186.7 498.4,186 498.4,185.3 498.5,184.6 498.5,183.9 498.5,183.2 498.5,182.5 498.6,181.8 498.6,181.1 498.6,180.4 498.7,179.7 498.7,179 498.7,178.3 498.7,177.6 498.8,176.9 498.8,176.2 498.8,175.5 498.8,174.8 498.9,174.1 498.9,173.4 498.9,172.7 498.9,172 499,171.3 499,170.6 499,171.3 499,172 499.1,172.7 499.1,173.4 499.1,174.1 499.1,174.8 499.2,175.5 499.2,176.2 499.2,176.9 499.2,177.6 499.2,178.3 499.3,179 499.3,179.7 499.3,180.4 499.3,181.1 499.4,181.8 499.4,182.5 499.4,183.2 499.4,183.9 499.5,184.6 499.5,185.3 499.5,186 499.5,186.7 499.5,187.4 499.6,188.1 499.6,188.8 499.6,189.5 499.6,190.2 499.7,190.9 499.7,191.6 499.7,192.3 499.7,193 499.8,193.8 499.8,193 499.8,192.3 499.8,191.6 499.8,190.9 499.8,190.2 499.9,189.5 499.9,188.8 499.9,188.1 499.9,187.4 499.9,186.7 500,186 500,185.3 500,184.6 500,183.9 500,183.2 500,182.5 500.1,181.8 500.1,181.1 500.1,180.4 500.1,179.7 500.1,179 500.2,178.3 500.2,177.6 500.2,176.9 500.2,176.2 500.2,175.5 500.2,174.8 500.3,174.1 500.3,173.4 500.3,172.7 500.3,172 500.3,171.3 500.4,170.6 500.4,169.9 500.4,169.2 500.4,168.5 500.4,167.8 500.4,167.1 500.5,166.4 500.5,165.7 500.5,165 500.5,164.3 500.6,163.6 500.6,162.9 500.6,162.1 500.7,161.4 500.7,160.7 500.8,160 500.8,159.3 500.8,158.6 500.9,157.9 500.9,157.1 500.9,156.4 501,155.7 501,155 501,155.7 501,156.4 501,157.1 501,157.8 501,158.5 501.1,159.2 501.1,159.9 501.1,160.6 501.1,161.3 501.1,162 501.1,162.8 501.1,163.5 501.1,164.2 501.1,164.9 501.1,165.6 501.1,166.3 501.2,167 501.2,167.7 501.2,168.4 501.2,169.1 501.2,169.8 501.2,170.5 501.2,171.2 501.2,171.9 501.2,172.6 501.2,173.3 501.2,174 501.3,174.7 501.3,175.4 501.3,176.1 501.3,176.8 501.3,177.5 501.3,178.2 501.3,179 501.3,179.7 501.3,180.4 501.3,181.1 501.3,181.8 501.4,182.5 501.4,183.2 501.4,183.9 501.4,184.6 501.4,185.3 501.4,186 501.4,186.7 501.4,187.4 501.4,188.1 501.4,188.8 501.4,189.5 501.5,190.2 501.5,190.9 501.5,191.6 501.5,192.3 501.5,193 501.5,193.8 501.9,192.5 501.9,193.2 501.9,193.9 501.9,194.6 501.9,195.3 501.9,196 502,196.7 502,197.4 502,198.2 502,198.9 502,199.6 502,200.3 502,201 502.1,201.7 502.1,202.4 502.1,203.1 502.1,203.8 502.1,204.5 502.1,205.2 502.1,205.9 502.1,206.6 502.2,207.3 502.2,208 502.2,208.8 502.2,209.5 502.2,210.2 502.2,210.9 502.2,211.6 502.3,212.3 502.3,213 502.3,213.7 502.3,214.4 502.3,215.1 502.3,215.8 502.3,216.5 502.4,217.2 502.4,217.9 502.4,218.6 502.4,219.3 502.4,220.1 502.4,220.8 502.4,221.5 502.4,222.2 502.5,222.9 502.5,223.6 502.5,224.3 502.5,225 503.1,226.2 503.8,225.5 504.4,226.9 504.5,226.2 504.6,225.4 504.8,224.7 504.9,224 505,223.3 505.1,222.5 505.2,221.8 505.4,221.1 505.5,220.4 505.6,219.7 505.8,218.9 505.9,218.2 506,217.5 506,216.8 506,216.1 506.1,215.4 506.1,214.6 506.1,213.9 506.1,213.2 506.1,212.5 506.1,211.8 506.2,211.1 506.2,210.4 506.2,209.6 506.2,208.9 506.2,208.2 506.2,207.5 506.3,206.8 506.3,206.1 506.3,205.4 506.3,204.6 506.3,203.9 506.4,203.2 506.4,202.5 506.4,201.8 506.4,201.1 506.4,200.4 506.4,199.6 506.5,198.9 506.5,198.2 506.5,197.5 506.5,196.8 506.6,196.1 506.6,195.4 506.6,194.6 506.7,193.9 506.7,193.2 506.8,192.5 506.8,191.8 506.8,191.1 506.9,190.4 506.9,189.6 506.9,188.9 507,188.2 507,187.5 507,186.8 507.1,186.1 507.1,185.4 507.1,184.6 507.2,183.9 507.2,183.2 507.2,182.5 507.3,181.8 507.3,181.1 507.4,180.4 507.4,179.6 507.4,178.9 507.5,178.2 507.5,177.5 507.6,176.8 507.6,176.1 507.7,175.4 507.8,174.6 507.9,173.9 507.9,173.2 508,172.5 508.1,171.8 508.1,171.1 508.2,170.4 508.3,169.6 508.4,168.9 508.4,168.2 508.5,167.5 508.6,166.8 508.6,166.1 508.7,165.4 508.8,164.6 508.9,163.9 508.9,163.2 509,162.5 509.2,163.2 509.5,163.9 509.7,164.6 509.9,165.4 510.2,166.1 510.4,166.8 510.6,167.5 510.7,168.2 510.7,168.9 510.8,169.7 510.8,170.4 510.9,171.1 510.9,171.8 511,172.5 511,173.3 511.1,174 511.1,174.7 511.2,175.4 511.2,176.2 511.2,176.9 511.3,177.6 511.3,178.3 511.4,179 511.4,179.8 511.5,180.5 511.5,181.2 511.6,181.9 511.6,182.6 511.7,183.4 511.7,184.1 511.8,184.8 511.8,185.5 511.9,186.2 511.9,187 511.9,187.7 511.9,188.4 512,189.1 512,189.9 512,190.6 512,191.3 512.1,192 512.1,192.7 512.1,193.5 512.1,194.2 512.2,194.9 512.2,195.6 512.2,196.3 512.2,197.1 512.3,197.8 512.3,198.5 512.3,199.2 512.3,200 512.4,200.7 512.4,201.4 512.4,202.1 512.4,202.8 512.5,203.6 512.5,204.3 512.5,205 512.6,204.3 512.7,203.6 512.7,202.9 512.8,202.2 512.9,201.5 513,200.8 513.1,200.1 513.2,199.3 513.2,198.6 513.3,197.9 513.4,197.2 513.5,196.5 513.6,195.8 513.6,195.1 513.7,194.4 513.8,193.7 513.9,193 514,192.3 514,191.6 514.1,190.9 514.2,190.2 514.3,189.5 514.4,188.8 514.4,189.5 514.4,190.2 514.4,190.9 514.5,191.6 514.5,192.4 514.5,193.1 514.5,193.8 514.6,194.5 514.6,195.2 514.6,196 514.6,196.7 514.7,197.4 514.7,198.1 514.7,198.8 514.7,199.6 514.8,200.3 514.8,201 514.8,201.7 514.8,202.5 514.9,203.2 514.9,203.9 514.9,204.6 514.9,205.3 515,206.1 515,206.8 515,207.5 515.1,206.8 515.2,206.1 515.4,205.4 515.5,204.7 515.6,204 515.7,203.3 515.8,202.6 515.9,201.9 516.1,201.2 516.2,200.5 516.3,199.8 516.4,199.1 516.5,198.4 516.6,197.7 516.8,197 516.9,196.2 516.9,197 517,197.7 517,198.4 517.1,199.1 517.1,199.9 517.2,200.6 517.2,201.3 517.3,202 517.3,202.7 517.4,203.5 517.4,204.2 517.5,204.9 517.5,205.6 517.5,206.3 517.6,207.1 517.6,207.8 517.7,208.5 517.7,209.2 517.8,210 517.8,210.7 517.9,211.4 517.9,212.1 518,212.8 518,213.6 518.1,214.3 518.1,215 518.2,215.7 518.3,216.5 518.4,217.2 518.5,217.9 518.6,218.6 518.8,219.4 518.9,220.1 519,220.8 519.1,221.6 519.2,222.3 519.3,223 519.4,223.8 519.6,224.4 519.7,225.1 519.9,225.8 520.1,226.5 520.3,227.2 520.5,227.9 520.6,228.6 520.8,229.3 521,230 521.1,229.3 521.1,228.6 521.2,227.9 521.2,227.1 521.3,226.4 521.4,225.7 521.4,225 521.5,224.3 521.6,223.6 521.6,222.9 521.7,222.1 521.8,221.4 521.8,220.7 521.9,220 522,219.3 522.1,218.6 522.1,217.9 522.2,217.1 522.3,216.4 522.4,215.7 522.5,215 522.6,214.3 522.7,213.6 522.8,212.9 522.9,212.1 522.9,211.4 523,210.7 523.1,210 523.2,209.3 523.2,208.6 523.3,207.9 523.3,207.2 523.4,206.5 523.5,205.8 523.5,205.1 523.6,204.4 523.6,203.7 523.7,203 523.7,202.3 523.8,201.6 523.8,200.9 523.9,200.2 523.9,199.5 524,198.8 524.1,199.5 524.2,200.2 524.3,200.9 524.3,201.6 524.4,202.4 524.5,203.1 524.6,203.8 524.7,204.5 524.8,205.3 524.9,206 524.9,206.7 525,207.4 525.1,208.2 525.2,208.9 525.3,209.6 525.4,210.3 525.5,211.1 525.5,211.8 525.6,212.5 525.7,211.8 525.7,211.1 525.7,210.4 525.8,209.7 525.8,209 525.9,208.3 525.9,207.6 525.9,206.9 526,206.2 526,205.5 526.1,204.8 526.1,204.1 526.1,203.4 526.2,202.7 526.2,202 526.2,201.2 526.3,200.5 526.3,199.8 526.4,199.1 526.4,198.4 526.4,197.7 526.5,197 526.5,196.3 526.6,195.6 526.6,194.9 526.6,194.2 526.7,193.5 526.7,192.8 526.8,192.1 526.8,191.4 526.8,190.7 526.9,190 526.9,190.7 527,191.4 527,192.2 527,192.9 527.1,193.6 527.1,194.3 527.1,195 527.2,195.8 527.2,196.5 527.3,197.2 527.3,197.9 527.3,198.6 527.4,199.4 527.4,200.1 527.4,200.8 527.5,201.5 527.5,202.2 527.6,203 527.6,203.7 527.6,204.4 527.7,205.1 527.7,205.8 527.7,206.6 527.8,207.3 527.8,208 527.9,208.7 527.9,209.4 527.9,210.2 528,210.9 528,211.6 528,212.3 528.1,213 528.1,213.8 528.3,214.4 528.5,215.1 528.6,215.8 528.8,216.5 529,217.2 529.1,217.8 529.3,218.5 529.5,219.2 529.7,219.9 529.8,220.6 530,221.2 530,220.5 530.1,219.8 530.1,219.1 530.2,218.4 530.2,217.6 530.2,216.9 530.3,216.2 530.3,215.5 530.3,214.8 530.4,214 530.4,213.3 530.5,212.6 530.5,211.9 530.5,211.2 530.6,210.4 530.6,209.7 530.7,209 530.7,208.3 530.7,207.5 530.8,206.8 530.8,206.1 530.8,205.4 530.9,204.7 530.9,203.9 531,203.2 531,202.5 531.1,201.8 531.2,201.1 531.4,200.4 531.5,199.6 531.6,198.9 531.8,198.2 531.9,197.5 531.9,196.8 532,196.1 532.1,195.4 532.1,194.6 532.2,193.9 532.2,193.2 532.3,192.5 532.4,191.8 532.4,191.1 532.5,190.4 532.5,189.6 532.6,188.9 532.6,188.2 532.7,187.5 532.8,186.8 532.8,186.1 532.9,185.4 532.9,184.6 533,183.9 533.1,183.2 533.1,182.5 533.2,183.2 533.4,183.9 533.5,184.6 533.6,185.4 533.7,186.1 533.8,186.8 533.9,187.5 534.1,188.2 534.2,188.9 534.3,189.6 534.4,190.4 534.5,191.1 534.6,191.8 534.8,192.5 534.8,193.2 534.9,193.9 535,194.6 535,195.3 535.1,196.1 535.2,196.8 535.2,197.5 535.3,198.2 535.4,198.9 535.4,199.6 535.5,200.3 535.6,201 535.6,201.7 535.7,202.4 535.8,203.2 535.8,203.9 535.9,204.6 536,205.3 536,206 536.1,206.7 536.2,207.4 536.2,208.1 536.3,207.4 536.4,206.7 536.5,206 536.6,205.2 536.7,204.5 536.8,203.8 536.9,203.1 537,202.4 537.1,201.6 537.2,200.9 537.3,200.2 537.4,199.5 537.5,198.8 537.6,199.5 537.7,200.2 537.8,200.9 537.8,201.6 537.9,202.3 538,203 538.1,203.7 538.2,204.4 538.2,205.1 538.3,205.8 538.4,206.5 538.5,207.2 538.6,208 538.7,208.7 538.8,209.4 538.8,208.6 538.9,207.9 539,207.2 539.1,206.4 539.2,205.7 539.3,204.9 539.4,204.2 539.5,203.5 539.6,202.7 539.7,202 539.8,201.2 539.8,202 539.8,202.7 539.8,203.4 539.8,204.1 539.9,204.8 539.9,205.5 539.9,206.2 539.9,206.9 540,207.6 540,208.3 540,209.1 540,209.8 540.1,210.5 540.1,211.2 540.1,211.9 540.1,212.6 540.2,213.3 540.2,214 540.2,214.7 540.2,215.4 540.2,216.1 540.3,216.9 540.3,217.6 540.3,218.3 540.3,219 540.4,219.7 540.4,220.4 540.4,221.1 540.4,221.8 540.5,222.5 540.5,223.2 540.5,224 540.5,224.7 540.6,225.4 540.6,226.1 540.6,226.8 540.6,227.5 541.2,228.6 541.9,228.8 541.9,228 542,227.3 542.1,226.6 542.1,225.9 542.2,225.1 542.3,224.4 542.3,223.7 542.4,223 542.5,222.2 542.5,221.5 542.6,220.8 542.7,220.1 542.7,219.3 542.8,218.6 542.9,217.9 542.9,217.2 543,216.4 543.1,215.7 543.1,215 543.3,215.7 543.4,216.4 543.5,217.1 543.7,217.8 543.8,218.5 544,219.2 544.1,219.9 544.2,220.6 544.4,221.2 544.4,220.5 544.5,219.8 544.5,219.1 544.6,218.4 544.6,217.7 544.7,217 544.7,216.2 544.8,215.5 544.8,214.8 544.9,214.1 544.9,213.4 544.9,212.7 545,212 545,211.2 545.1,210.5 545.1,209.8 545.2,209.1 545.2,208.4 545.3,207.7 545.3,207 545.4,206.2 545.8,205 546.1,205.2 546.5,203.3 546.9,203.8 547.2,202.5 547.2,203.2 547.2,203.9 547.2,204.6 547.2,205.3 547.2,206 547.2,206.7 547.2,207.4 547.2,208.1 547.2,208.8 547.2,209.5 547.2,210.2 547.2,210.9 547.2,211.6 547.2,212.3 547.2,213 547.2,213.8" fill="none" stroke="#228B22" stroke-width="2.7" stroke-linejoin="round"/>
<rect class="bx" x="65.5" y="65.5" width="501" height="253"/>
<path class="tk" d="M70.5,318.5 H536.5 M70.5,318.5 v8.5 M163.5,318.5 v8.5 M256.5,318.5 v8.5 M349.5,318.5 v8.5 M442.5,318.5 v8.5 M536.5,318.5 v8.5"/>
<text class="a" x="70.5" y="347.5">2000</text>
<text class="a" x="163.5" y="347.5">2005</text>
<text class="a" x="256.5" y="347.5">2010</text>
<text class="a" x="349.5" y="347.5">2015</text>
<text class="a" x="442.5" y="347.5">2020</text>
<text class="a" x="536.5" y="347.5">2025</text>
<path class="tk" d="M65.5,92.5 V312.5 M65.5,312.5 h-8.5 M65.5,268.5 h-8.5 M65.5,224.5 h-8.5 M65.5,180.5 h-8.5 M65.5,136.5 h-8.5 M65.5,92.5 h-8.5"/>
<text class="a" transform="translate(46.5,312.5) rotate(-90)">0</text>
<text class="a" transform="translate(46.5,268.5) rotate(-90)">5</text>
<text class="a" transform="translate(46.5,224.5) rotate(-90)">10</text>
<text class="a" transform="translate(46.5,180.5) rotate(-90)">15</text>
<text class="a" transform="translate(46.5,136.5) rotate(-90)">20</text>
<text class="a" transform="translate(46.5,92.5) rotate(-90)">25</text>
</g>
<g>
<text class="t" x="914.4" y="39.5">NEWT versus S&amp;P500 stock return time-series</text>
<path d="M683,190H684V176.9H685V176.9H686V184.2H687V191H688V158H689V158H690V196H691V86H692V86H693V159.4H694V159.4H695V186H696V181.2H697V196.2H698V191.1H699V198.7H700V196.8H701V194.2H702V190.1H703V193.4H704V198.4H705V200.1H706V200.3H707V196.3H708V202.6H709V198.3H710V192.7H711V189.5H712V192H713V199.4H714V202.1H715V204.3H716V203H717V206.2H718V201.2H719V200.4H720V196.3H721V201.7H722V199.9H723V198.1H724V197.6H725V188.3H726V189.7H727V197.3H728V202.4H729V198.8H730V202.9H731V198.4H732V191.4H733V193.1H734V196.5H735V199.2H736V202.7H737V205.1H738V203.9H739V199.7H740V195.1H741V192.7H742V200.1H743V194.5H744V192.7H745V190.8H746V192.6H747V189.7H748V186.2H749V191.2H750V188.3H751V195.2H752V198.6H753V200.2H754V191.7H755V189.4H756V195.5H757V192.1H758V197.4H759V199.8H760V202.9H761V200.1H762V202.3H763V201.5H764V204.9H765V205.6H766V205.3H767V206.6H768V205.8H769V206H770V201H771V195.5H772V190.1H773V192.6H774V197H775V201.5H776V202.1H777V203.2H778V197.7H779V189.3H780V181.1H781V174.5H782V188.8H783V185.7H784V192.3H785V190H786V192.6H787V191.3H788V196.1H789V201.5H790V202H791V199.5H792V198.1H793V199.9H794V201.3H795V199.1H796V195H797V194.9H798V193.5H799V194.6H800V186.2H801V193.6H802V187.2H803V194.1H804V192.7H805V197.9H806V197.4H807V205.4H808V206.1H809V205.3H810V202.9H811V196H812V196H813V194.8H814V171.8H815V167H816V167H817V158H818V158H819V173.8H820V173.8H821V188.5H822V194H823V194H824V193.4H825V185H826V185H827V186H828V185.2H829V169H830V169H831V180.4H832V165H833V74H834V74H835V110H836V147H837V156H838V159H839V164.5H840V171H841V171H842V173H843V121H844V121H845V186H846V177H847V177H848V187H849V183H850V183H851V188.5H852V173H853V173H854V194.5H855V188H856V188H857V191.5H858V191.5H859V185H860V185H861V193H862V193H863V206H864V193H865V193H866V196H867V196H868V192H869V192H870V188H871V188H872V192H873V192H874V194H875V200.5H876V200.5H877V202H878V202H879V202H880V203H881V201H882V201H883V188H884V188H885V202H886V202H887V203H888V203H889V189H890V189H891V192H892V192H893V203H894V203H895V199H896V194H897V194H898V202H899V202H900V195.7H901V196.4H902V193.9H903V193.2H904V194.2H905V194H906V195.5H907V200.2H908V202.2H909V197.5H910V197.5H911V200.7H912V198.4H913V197.5H914V202.1H915V199.4H916V202.2H917V203.8H918V197.7H919V202.9H920V200.3H921V202.2H922V150H923V150H924V200.9H925V199.5H926V199.5H927V204.3H928V204H929V201.5H930V199.4H931V203.6H932V201.5H933V205.6H934V205.8H935V205.9H936V201.9H937V201.5H938V200.3H939V198.2H940V198.9H941V201.8H942V193.2H943V193.7H944V200H945V196.5H946V197.2H947V196.6H948V193.2H949V194.4H950V200.4H951V205.6H952V203.5H953V204.8H954V202.5H955V202.6H956V201.9H957V205.2H958V205.4H959V204H960V204.9H961V199.1H962V191.4H963V190.2H964V198.7H965V202.6H966V202.6H967V200.9H968V201.1H969V202.4H970V196.9H971V199.1H972V198.6H973V204.1H974V205.9H975V208H976V207.7H977V208H978V207.7H979V205.9H980V203.1H981V204.1H982V203.2H983V205.7H984V203.9H985V206.3H986V205H987V207.5H988V206.7H989V208.3H990V208.1H991V206.7H992V205.6H993V207.1H994V206.9H995V208.2H996V209H997V206.3H998V208.1H999V206.6H1000V208.5H1001V208.9H1002V207.7H1003V207.4H1004V206.6H1005V206.8H1006V205.3H1007V205H1008V208.2H1009V208.3H1010V207.9H1011V206.4H1012V206.7H1013V206.8H1014V206.2H1015V199.2H1016V199.5H1017V194.2H1018V200.1H1019V203.2H1020V200.8H1021V198H1022V195.3H1023V198.4H1024V202H1025V206.5H1026V206.9H1027V204.8H1028V205.6H1029V204.7H1030V200.9H1031V202.8H1032V200H1033V201.5H1034V200.3H1035V203.7H1036V203H1037V207.7H1038V206.7H1039V205H1040V207.4H1041V205.7H1042V207.1H1043V207.1H1044V205.7H1045V204.4H1046V162H1047V162H1048V184.5H1049V202.5H1050V180H1051V180H1052V202.5H1053V202.5H1054V203.7H1055V203.1H1056V203.3H1057V206H1058V206.3H1059V203.3H1060V200.2H1061V200.2H1062V205.2H1063V204.2H1064V202.5H1065V205.7H1066V202.5H1067V198.4H1068V196.3H1069V199.4H1070V200.7H1071V198.2H1072V203.1H1073V200.5H1074V205.6H1075V205.2H1076V205.9H1077V206.7H1078V208.7H1079V207.1H1080V206.9H1081V203.3H1082V205.5H1083V201.9H1084V205.6H1085V206.8H1086V208.3H1087V206.5H1088V206.9H1089V205.8H1090V203.8H1091V202.6H1092V201.3H1093V201.9H1094V200.1H1095V197.8H1096V197.3H1097V200.1H1098V206.4H1099V205.5H1100V204.8H1101V201.2H1102V201.8H1103V202.7H1104V201.9H1105V200.3H1106V194.2H1107V199.5H1108V201.4H1109V206.1H1110V203.9H1111V205H1112V204.8H1113V202.9H1114V202.3H1115V201.1H1116V196.4H1117V202.8H1118V203.6H1119V203.3H1120V200.6H1121V197.7H1122V195.2H1123V189.3H1124V193.5H1125V199.5H1126V203.8H1127V201.9H1128V204H1129V207H1130V202.3H1131V198H1132V193.4H1133V190.3H1134V201.6H1135V206.2H1136V203.8H1137V199.6H1138V199.2H1139V197.2H1140V202.3H1141V198.8H1142V204.4H1143V207.4H1144V205.8H1145V204.2H1146V206.2H1147V203.8H1148V220.1H1147V220H1146V222.7H1145V223.6H1144V226.7H1143V230.2H1142V227.6H1141V233.6H1140V227H1139V229.3H1138V223.4H1137V220.4H1136V220.2H1135V219.8H1134V222.9H1133V223.7H1132V220.4H1131V219.8H1130V225.6H1129V225.5H1128V221.3H1127V221.9H1126V221.2H1125V218.8H1124V217.6H1123V223.3H1122V227.1H1121V228.7H1120V223.4H1119V221.6H1118V224H1117V222.4H1116V223H1115V229H1114V229.3H1113V226.4H1112V226.1H1111V225.7H1110V223.1H1109V220H1108V223.8H1107V221.3H1106V224.4H1105V221H1104V231.7H1103V228H1102V263.8H1101V263.8H1100V228.6H1099V228.6H1098V233.7H1097V229.7H1096V229.3H1095V222.8H1094V223.9H1093V223.7H1092V227.6H1091V228.1H1090V223.8H1089V232.3H1088V225.7H1087V226.9H1086V223.6H1085V223.2H1084V219H1083V220.9H1082V220.4H1081V227.4H1080V225H1079V225H1078V236.2H1077V229.5H1076V230.8H1075V232.3H1074V222.5H1073V283.8H1072V283.8H1071V221.2H1070V233.8H1069V233.8H1068V217.8H1067V220H1066V221.1H1065V222.4H1064V219.9H1063V219.7H1062V218.2H1061V217.5H1060V221.6H1059V220.6H1058V222.4H1057V219.2H1056V220.1H1055V221.2H1054V218.8H1053V221H1052V225.1H1051V227H1050V231.8H1049V231.8H1048V253.5H1047V253.5H1046V245H1045V221.3H1044V219.1H1043V217.3H1042V216.4H1041V215.7H1040V219.1H1039V218.1H1038V220H1037V216.9H1036V222H1035V223.7H1034V221.2H1033V220.6H1032V219.5H1031V216.8H1030V217.9H1029V220.7H1028V221.2H1027V217.8H1026V217.1H1025V227.3H1024V226.7H1023V231.7H1022V225.8H1021V226.2H1020V228.5H1019V221.5H1018V220.7H1017V216.1H1016V217.3H1015V221.2H1014V223.2H1013V224.3H1012V219.7H1011V218.1H1010V218.7H1009V217.9H1008V216.6H1007V216.6H1006V215.6H1005V215.5H1004V215.8H1003V218.5H1002V222.5H1001V222.3H1000V222.2H999V220.3H998V219.6H997V217.8H996V216H995V216.3H994V215.7H993V215.8H992V216H991V218H990V219.7H989V223.9H988V224.3H987V219.5H986V218H985V221.6H984V223.3H983V223.7H982V218.8H981V217.5H980V215.2H979V214.9H978V216.2H977V217.8H976V217.3H975V219.3H974V222.2H973V223.4H972V225.5H971V223.8H970V227.1H969V226.2H968V227.5H967V225.6H966V227.7H965V226.7H964V230.6H963V227.6H962V224H961V224.7H960V224.2H959V218.8H958V225.4H957V222.1H956V221.6H955V229.4H954V223.5H953V227.9H952V222.7H951V218.4H950V219.1H949V220.4H948V224.6H947V221.6H946V225.6H945V221.1H944V222.4H943V220.6H942V219H941V221.1H940V222.4H939V220.8H938V220.5H937V218.2H936V219.6H935V218.7H934V224.1H933V230.5H932V229.5H931V223.9H930V225H929V218.5H928V222H927V221.1H926V223.5H925V221.8H924V253.8H923V253.8H922V219.3H921V220.4H920V218.4H919V218.4H918V221.3H917V228.1H916V225H915V231.7H914V226H913V225.3H912V221H911V225H910V225H909V221.9H908V227.5H907V227.1H906V232.2H905V225.8H904V222.8H903V221.4H902V221H901V221.3H900V227.5H899V222.4H898V226H897V225.8H896V222H895V221.1H894V228.2H893V228.7H892V228H891V228.1H890V228.8H889V227.8H888V228.2H887V224.4H886V227.9H885V246.9H884V246.9H883V241.3H882V236.4H881V227.8H880V224.2H879V221.3H878V227.1H877V225.7H876V228.8H875V225.2H874V220.3H873V222.6H872V228.4H871V223.8H870V230.5H869V238.8H868V235.1H867V233.2H866V231.1H865V227.7H864V227.5H863V223.5H862V235H861V229.2H860V237.5H859V235.7H858V232.9H857V229.1H856V224H855V220.9H854V221H853V227.9H852V236.2H851V235.3H850V229H849V236H848V248.8H847V263.8H846V263.8H845V252.5H844V252.5H843V270.6H842V276.9H841V276.9H840V238H839V261.6H838V309.8H837V309.8H836V296.2H835V281.9H834V268.8H833V257.9H832V243.3H831V227.4H830V231.5H829V234.4H828V230.5H827V228.5H826V226.2H825V233.1H824V229.7H823V230.9H822V235.9H821V235.7H820V239.8H819V231.5H818V240.5H817V237.8H816V227.4H815V224.9H814V222.1H813V223.9H812V229.4H811V222.4H810V221.9H809V222.8H808V219.6H807V219.3H806V240H805V257.9H804V257.9H803V243H802V225.6H801V224.4H800V224.4H799V224.4H798V226.1H797V232.9H796V220H795V220H794V227.3H793V233.1H792V229H791V229.9H790V229.1H789V224.1H788V229.3H787V224.1H786V229.4H785V225.7H784V219.1H783V222.6H782V227.9H781V230.4H780V237.5H779V230.3H778V229.2H777V228.1H776V228.1H775V228.1H774V228.1H773V224.6H772V228.2H771V231.3H770V235.8H769V224.5H768V222.2H767V219.6H766V219.4H765V219.7H764V222.6H763V225H762V222.1H761V219.2H760V220.9H759V220.3H758V225.2H757V235.6H756V232.8H755V227.7H754V231H753V231.8H752V228.4H751V227.7H750V234.5H749V242.5H748V232.5H747V235.6H746V230.7H745V223.3H744V221.8H743V219.8H742V221.3H741V223.3H740V224.9H739V222.7H738V221.2H737V221.5H736V226H735V233.1H734V231H733V224.8H732V223.8H731V227.4H730V222.6H729V220.1H728V224.3H727V223.6H726V221.9H725V220H724V221.8H723V220.5H722V224.5H721V225H720V221.5H719V223H718V230.5H717V227.2H716V229.2H715V222.9H714V229.4H713V227.6H712V226H711V228.4H710V234H709V228.4H708V236.1H707V226.9H706V227.6H705V222.4H704V227.3H703V237.3H702V232.9H701V227.5H700V227.6H699V228.1H698V229.8H697V227H696V248.1H695V248.1H694V234.9H693V302.9H692V302.9H691V235H690V235H689V249.4H688V249.4H687V243.8H686V228.5H685V261.6H684V261.6H683Z" fill="#0000FF"/>
<path d="M683,208.2H684V208.6H685V208H686V204.3H687V204.1H688V202.5H689V206.7H690V208.2H691V207H692V206H693V203.1H694V206.6H695V205.6H696V205.5H697V208.2H698V209H699V209.3H700V203.9H701V207.3H702V204.4H703V206.4H704V206.2H705V209.6H706V207.6H707V209.5H708V205.3H709V208.5H710V208.3H711V208.1H712V208.4H713V206.7H714V208H715V205.5H716V205.5H717V200H718V205H719V208.6H720V204.7H721V207.1H722V202.5H723V205.1H724V207.8H725V207.5H726V209.1H727V206.9H728V204.2H729V205.6H730V205.6H731V205.2H732V207.6H733V209.6H734V208.7H735V205.9H736V208.6H737V204.4H738V208.3H739V207.5H740V207.5H741V209.2H742V208.2H743V206H744V210.6H745V209.4H746V209.4H747V209.4H748V209.4H749V209.4H750V209.4H751V207.8H752V209.4H753V209.4H754V209.4H755V207.5H756V209.4H757V209.4H758V210.2H759V209.5H760V210H761V209.7H762V210.8H763V208.9H764V210.1H765V210H766V210.4H767V210.2H768V211.2H769V210.3H770V210.6H771V210.5H772V211.2H773V210.3H774V210.1H775V209.5H776V209.8H777V207.3H778V209.9H779V209.6H780V208.9H781V208.9H782V210.6H783V209.9H784V210.1H785V210.8H786V208.1H787V210.3H788V209.2H789V208.8H790V208.8H791V209.6H792V208.9H793V208.5H794V209.2H795V210.1H796V209.3H797V210.4H798V207.7H799V210.7H800V209.8H801V209.9H802V210.8H803V210.1H804V208H805V210.4H806V209.7H807V209H808V208.5H809V209.4H810V208.9H811V204.3H812V208.3H813V202.7H814V207.5H815V207.9H816V206.2H817V208.3H818V206.8H819V207.5H820V206.4H821V207H822V207.1H823V203.8H824V208.2H825V206.7H826V208.9H827V209H828V209.2H829V208.1H830V207.7H831V203.8H832V196.7H833V188.8H834V194.4H835V202.4H836V199.5H837V205.8H838V202.8H839V204.9H840V204.8H841V199.2H842V197.5H843V205.6H844V206.4H845V208.2H846V207.4H847V206.9H848V207.5H849V207.2H850V209H851V207.8H852V209.3H853V206.3H854V209.7H855V208.3H856V207.3H857V205.5H858V210H859V208.6H860V209.6H861V209.3H862V206.6H863V203.8H864V207.2H865V208.8H866V208.2H867V209.7H868V207.5H869V208.3H870V207.6H871V207.8H872V207.7H873V209.1H874V207.9H875V209.9H876V208H877V209.6H878V208.1H879V208.1H880V208.1H881V208.1H882V208.1H883V208.1H884V209.2H885V207.8H886V202.5H887V205.5H888V206.6H889V205.8H890V205.8H891V206.5H892V203.8H893V208.4H894V206H895V206.1H896V210.2H897V209.2H898V210H899V208.7H900V206.9H901V209.3H902V204.2H903V209.1H904V208.1H905V209.1H906V208.8H907V209.7H908V209H909V206.3H910V208.8H911V210.5H912V209.2H913V210.5H914V209.6H915V211H916V210.9H917V210.4H918V210.8H919V209.9H920V210.4H921V209.8H922V209.9H923V210.5H924V209.8H925V209.3H926V209.9H927V209.3H928V207.3H929V209.2H930V209H931V209.2H932V210.2H933V209.6H934V209.8H935V210.2H936V209.6H937V210.9H938V208.7H939V210.8H940V210.6H941V210H942V210H943V208.9H944V209.5H945V209.8H946V208.7H947V208.1H948V207.8H949V206.2H950V206H951V208.8H952V209.8H953V210.8H954V210.3H955V210.3H956V209.9H957V207.8H958V208.5H959V207.9H960V204.8H961V203.8H962V206.2H963V205.9H964V208.5H965V207.2H966V209.6H967V207.7H968V206.9H969V208.6H970V208.7H971V204H972V206.9H973V206.2H974V208.4H975V210.5H976V209.1H977V209.1H978V208.1H979V209.2H980V210.1H981V210.4H982V209.3H983V208.2H984V207.5H985V207H986V209.8H987V209.6H988V211H989V210H990V210H991V210H992V210H993V210H994V210H995V210H996V210H997V208.1H998V208.9H999V210H1000V210H1001V210H1002V208.5H1003V210H1004V210.5H1005V209.9H1006V209.8H1007V207.7H1008V207.1H1009V206.3H1010V208.1H1011V207.9H1012V209.4H1013V210.5H1014V207.9H1015V210H1016V210H1017V210H1018V209.3H1019V208.5H1020V207.1H1021V206.7H1022V206.1H1023V202.5H1024V203.9H1025V208.7H1026V210.3H1027V208.9H1028V209.6H1029V207.4H1030V209.9H1031V209.5H1032V210.4H1033V209.8H1034V210.7H1035V210H1036V208.3H1037V210H1038V210H1039V210H1040V210.1H1041V210.5H1042V210.4H1043V210H1044V208.1H1045V204H1046V193.5H1047V193.5H1048V205H1049V208.1H1050V208.1H1051V209.1H1052V206H1053V210.1H1054V208.9H1055V210H1056V207.9H1057V209.6H1058V209.4H1059V209.4H1060V209.4H1061V209.8H1062V209.9H1063V208.3H1064V207.5H1065V207.5H1066V209.6H1067V208.5H1068V210.1H1069V209.4H1070V209.8H1071V208.3H1072V209.5H1073V209.8H1074V210.2H1075V209.4H1076V209.4H1077V209.2H1078V209H1079V208.6H1080V207.7H1081V208.2H1082V208H1083V208.7H1084V208.9H1085V207.7H1086V206.8H1087V206.2H1088V207.7H1089V203.6H1090V208.1H1091V208.4H1092V207.8H1093V208.9H1094V205.1H1095V202.5H1096V200H1097V205.8H1098V209.6H1099V208.8H1100V208.8H1101V208.8H1102V208.8H1103V208.8H1104V208.8H1105V208.8H1106V209.3H1107V209.1H1108V209.5H1109V209.4H1110V210.3H1111V209.8H1112V211H1113V210H1114V208.8H1115V210H1116V208.4H1117V210H1118V208.3H1119V210H1120V210H1121V210.4H1122V210.2H1123V210.9H1124V210.7H1125V211H1126V210.4H1127V210H1128V210.1H1129V208.8H1130V208.8H1131V210H1132V210H1133V210H1134V210.5H1135V210.1H1136V209.3H1137V209.4H1138V208.1H1139V208.5H1140V206.1H1141V192.8H1142V198.8H1143V210.1H1144V208.4H1145V210.1H1146V208.9H1147V210.2H1148V214.8H1147V215.8H1146V214.6H1145V217.5H1144V219.2H1143V219.1H1142V224.6H1141V226.7H1140V224.6H1139V217.7H1138V220.2H1137V215.3H1136V216H1135V215.8H1134V214.9H1133V214.6H1132V215.2H1131V215H1130V217.6H1129V218.7H1128V221.1H1127V216.9H1126V215.6H1125V214.6H1124V216.6H1123V215.1H1122V215H1121V214.6H1120V215.8H1119V215.1H1118V215.2H1117V215.3H1116V215.4H1115V215.5H1114V214.3H1113V215.6H1112V215.6H1111V215.6H1110V217.8H1109V215.6H1108V215.6H1107V217.1H1106V215.6H1105V214.4H1104V216.1H1103V215.8H1102V216.5H1101V216.9H1100V217.1H1099V217.6H1098V216.5H1097V218.4H1096V217H1095V219.6H1094V222.4H1093V222H1092V218.5H1091V218H1090V216.9H1089V219.5H1088V220.6H1087V221.2H1086V217.6H1085V220.4H1084V218.6H1083V218.1H1082V218.9H1081V218.1H1080V215.8H1079V218.3H1078V217.5H1077V218.7H1076V217.9H1075V214.4H1074V215.4H1073V215.5H1072V216H1071V216.2H1070V216.2H1069V217.4H1068V217.4H1067V214.6H1066V214.8H1065V217.2H1064V216.2H1063V218.8H1062V216.9H1061V217.5H1060V217.8H1059V221.2H1058V215.8H1057V218H1056V220.6H1055V220.6H1054V218.5H1053V217.9H1052V226.5H1051V226.5H1050V218.2H1049V222H1048V240.8H1047V240.8H1046V218.8H1045V217H1044V216.1H1043V215.3H1042V214.7H1041V214.7H1040V214.5H1039V215H1038V214.3H1037V215.6H1036V217.3H1035V216.2H1034V215.1H1033V217.4H1032V215.1H1031V214.3H1030V214.3H1029V216.6H1028V215.8H1027V216.5H1026V215.2H1025V215.7H1024V220.6H1023V219.6H1022V218.4H1021V216.1H1020V219.3H1019V214.8H1018V215.5H1017V215.5H1016V214.4H1015V214.3H1014V215.6H1013V217.2H1012V218.9H1011V216H1010V218.7H1009V218.4H1008V222.5H1007V218.7H1006V213.9H1005V214.6H1004V213.9H1003V214.7H1002V214.4H1001V214.4H1000V214.9H999V214.8H998V213.7H997V213.7H996V214.5H995V215.1H994V214.6H993V214.6H992V214.7H991V213.9H990V214.8H989V214H988V214.9H987V213.9H986V215H985V216H984V216.7H983V216.5H982V216.3H981V214.2H980V216H979V217.6H978V220.6H977V218.8H976V218.7H975V215.3H974V216.4H973V215.1H972V216H971V215.3H970V217.2H969V216.5H968V218.8H967V218.2H966V218.2H965V215.9H964V218.5H963V219.9H962V221.9H961V219.6H960V218.7H959V215.5H958V215H957V214.2H956V214.1H955V215.3H954V215.4H953V214.4H952V215.4H951V217.3H950V215.9H949V215.2H948V216.2H947V214.7H946V215.6H945V216.2H944V214.7H943V215.7H942V215.1H941V215.3H940V215.3H939V214.3H938V214.1H937V214.6H936V214.4H935V214.4H934V215.4H933V215.1H932V217.8H931V215.4H930V216.1H929V216.2H928V215.8H927V214.8H926V216.9H925V215.6H924V218.5H923V217H922V218.7H921V215.3H920V216.5H919V218.1H918V217.4H917V216.5H916V215.4H915V214.6H914V214.3H913V214.4H912V214.4H911V215.1H910V215.5H909V215.4H908V217.7H907V215.2H906V217.1H905V216.1H904V217.6H903V218.1H902V217H901V216H900V220.9H899V216.6H898V216.9H897V216.7H896V216.4H895V216.1H894V217.3H893V218.7H892V221H891V220H890V220H889V220H888V227.8H887V228.8H886V222H885V217.4H884V217.6H883V216.7H882V214.7H881V218.4H880V218H879V215.8H878V216.9H877V215H876V215.5H875V215.9H874V215.8H873V215.4H872V216.8H871V216.8H870V217.6H869V217.4H868V218.5H867V216.7H866V220.2H865V218.6H864V221.2H863V218.3H862V217.5H861V215.9H860V217.8H859V218.8H858V217H857V215.5H856V216.4H855V217.6H854V218.7H853V218.8H852V217.5H851V218.1H850V216.4H849V216.5H848V217.3H847V218.5H846V217.4H845V219.8H844V218.9H843V221.2H842V219.7H841V222.5H840V219.7H839V224.5H838V222.3H837V233.8H836V230.3H835V225H834V232.5H833V225.9H832V219H831V220.6H830V220.6H829V216.6H828V215.9H827V216.7H826V217.5H825V218H824V217.3H823V218.4H822V219.3H821V218.8H820V218.8H819V218.3H818V217.8H817V216.3H816V217.6H815V217.7H814V219.9H813V216.8H812V216.6H811V215.7H810V214.5H809V215.7H808V215.6H807V215.3H806V217.5H805V219.9H804V217.7H803V217.8H802V214.7H801V215.2H800V214.5H799V213.9H798V214H797V215.7H796V214.3H795V214.6H794V214.9H793V214.9H792V215.2H791V215.6H790V215.6H789V215.3H788V214.3H787V214.9H786V215H785V214H784V214.4H783V216.5H782V215.3H781V214.6H780V215.5H779V214.8H778V217.9H777V217.1H776V216.1H775V214.2H774V214.9H773V214.5H772V215.2H771V215.1H770V215.6H769V216.5H768V215.9H767V217.6H766V216.2H765V217.8H764V214.7H763V214.8H762V215.8H761V215.1H760V215.6H759V215.5H758V215.2H757V215.3H756V215.6H755V215.6H754V215.6H753V215.6H752V215.6H751V215.6H750V215.6H749V215.6H748V217.4H747V215.6H746V214.3H745V215.8H744V215.2H743V216.1H742V216.1H741V218.4H740V215.9H739V216.8H738V216.5H737V217.6H736V216.1H735V218.6H734V218H733V219.4H732V217.5H731V218H730V217.5H729V217.7H728V216.3H727V217.8H726V216.5H725V218H724V215.9H723V218.6H722V219.6H721V218.1H720V221.4H719V221.9H718V218.2H717V216.8H716V218.1H715V217.5H714V222.5H713V218.1H712V218.6H711V218.8H710V218.8H709V218.6H708V216.2H707V217.7H706V215.4H705V220H704V220.8H703V223.8H702V221.1H701V219.4H700V216.2H699V216.8H698V216.1H697V217.6H696V217.5H695V219H694V221.1H693V222.5H692V218.6H691V217.2H690V216.4H689V218H688V216.3H687V217.3H686V216.3H685V217.4H684V217.2H683Z" fill="#FFFF00"/>
<rect class="bx" x="665.5" y="65.5" width="501" height="253"/>
<path class="tk" d="M670.5,318.5 H1136.5 M670.5,318.5 v8.5 M763.5,318.5 v8.5 M856.5,318.5 v8.5 M949.5,318.5 v8.5 M1042.5,318.5 v8.5 M1136.5,318.5 v8.5"/>
<text class="a" x="670.5" y="347.5">2000</text>
<text class="a" x="763.5" y="347.5">2005</text>
<text class="a" x="856.5" y="347.5">2010</text>
<text class="a" x="949.5" y="347.5">2015</text>
<text class="a" x="1042.5" y="347.5">2020</text>
<text class="a" x="1136.5" y="347.5">2025</text>
<path class="tk" d="M665.5,80.5 V300.5 M665.5,300.5 h-8.5 M665.5,256.5 h-8.5 M665.5,212.5 h-8.5 M665.5,168.5 h-8.5 M665.5,124.5 h-8.5 M665.5,80.5 h-8.5"/>
<text class="a" transform="translate(646.5,300.5) rotate(-90)">-0.4</text>
<text class="a" transform="translate(646.5,256.5) rotate(-90)">-0.2</text>
<text class="a" transform="translate(646.5,212.5) rotate(-90)">0.0</text>
<text class="a" transform="translate(646.5,168.5) rotate(-90)">0.2</text>
<text class="a" transform="translate(646.5,124.5) rotate(-90)">0.4</text>
<text class="a" transform="translate(646.5,80.5) rotate(-90)">0.6</text>
<rect x="1001.5" y="65.5" width="165" height="48" fill="#fff" stroke="#000" stroke-width="1"/>
<path d="M1013.3,80.8 H1037.8" stroke="#0000FF" stroke-width="2" fill="none"/>
<text class="l" x="1048.6" y="86.8" textLength="111" lengthAdjust="spacing">NEWT stock return</text>
<path d="M1013.3,97.5 H1037.8" stroke="#FFFF00" stroke-width="1" fill="none"/>
<text class="l" x="1048.6" y="103" textLength="110" lengthAdjust="spacing">GSPC stock return</text>
</g>
<g>
<text class="t" x="314.4" y="439.5">NEWT versus S&amp;P500 stock return distribution</text>
<path d="M65.5,709.5H566.5" stroke="#BEBEBE" stroke-width="1" fill="none"/>
<path d="M80,708.3 194,708.3 195,707.3 196,708.3 206,708.2 207,707.2 208,708.2 212,708.2 213,707.2 214,708.1 225,708 225,708 233.1,707 241.3,705.7 246.1,704.2 250.2,702.6 254.3,699.4 257.5,696.1 260,691.2 261.6,686.3 264,679 265.7,670.9 267.6,661.1 268.9,653.8 270.5,646.5 271.8,636.8 272.6,625.4 273.5,614 274.1,607.8 274.8,607.8 275.4,614 276.4,625.4 277.4,636.8 279,646.5 280.3,653.8 281.6,661.1 283.2,670.9 284.3,680.7 286.8,687.2 289.2,692.9 291.7,696.9 294.9,700.2 298.2,703.1 301.4,705 307.9,706.3 316.1,707 325,707.3 335,708 350,708.2 351,707.2 352,708.2 400,708.3 553,708.3" fill="none" stroke="#228B22" stroke-width="2" stroke-linejoin="round"/>
<path d="M233,708.5 233.1,708.5 244.5,708.5 254.3,707.7 258.3,706.7 261.6,703.8 263.7,698.9 265.7,689.2 267,677.8 268.3,664.8 269.6,650.2 270.5,635.5 271.5,617.6 272.2,599.8 272.5,590 272.5,579 273.5,579 273.5,514 274.5,514 274.5,479.5 275.5,479.5 275.5,514 276.5,514 276.5,549 277.5,549 277.5,591 278.4,591 278.3,599.8 279,622.5 279.8,643.7 280.6,658.3 281.6,671.3 282.7,684.3 283.9,694.1 285.2,700.6 286.8,704.6 289.2,706.3 293.3,707.4 298.2,708 303,708.5 314.4,708.5 315,708.5" fill="none" stroke="#FFA500" stroke-width="1.1" stroke-linejoin="round"/>
<rect class="bx" x="65.5" y="465.5" width="501" height="253"/>
<path class="tk" d="M100.5,718.5 H535.5 M100.5,718.5 v8.5 M187.5,718.5 v8.5 M274.5,718.5 v8.5 M361.5,718.5 v8.5 M448.5,718.5 v8.5 M535.5,718.5 v8.5"/>
<text class="a" x="100.5" y="747.5">-0.4</text>
<text class="a" x="187.5" y="747.5">-0.2</text>
<text class="a" x="274.5" y="747.5">0.0</text>
<text class="a" x="361.5" y="747.5">0.2</text>
<text class="a" x="448.5" y="747.5">0.4</text>
<text class="a" x="535.5" y="747.5">0.6</text>
<path class="tk" d="M65.5,468.5 V709.5 M65.5,709.5 h-8.5 M65.5,669.5 h-8.5 M65.5,629.5 h-8.5 M65.5,589.5 h-8.5 M65.5,549.5 h-8.5 M65.5,508.5 h-8.5 M65.5,468.5 h-8.5"/>
<text class="a" transform="translate(46.5,709.5) rotate(-90)">0</text>
<text class="a" transform="translate(46.5,669.5) rotate(-90)">10</text>
<text class="a" transform="translate(46.5,629.5) rotate(-90)">20</text>
<text class="a" transform="translate(46.5,589.5) rotate(-90)">30</text>
<text class="a" transform="translate(46.5,549.5) rotate(-90)">40</text>
<text class="a" transform="translate(46.5,508.5) rotate(-90)">50</text>
<text class="a" transform="translate(46.5,468.5) rotate(-90)">60</text>
<rect x="65.5" y="465.5" width="196" height="48" fill="#fff" stroke="#000" stroke-width="1"/>
<path d="M77,481.2 H101.8" stroke="#228B22" stroke-width="2" fill="none"/>
<text class="l" x="112.5" y="487" textLength="142" lengthAdjust="spacing">NEWT return distribution</text>
<path d="M77,497.5 H101.8" stroke="#FFA500" stroke-width="1" fill="none"/>
<text class="l" x="112.5" y="503.2" textLength="141.5" lengthAdjust="spacing">GSPC return distribution</text>
</g>
<g>
<text class="t" x="914.4" y="439.5">NEWT versus S&amp;P500 return frequency distribution</text>
<clipPath id="c4"><rect x="665.5" y="465.5" width="501" height="253"/></clipPath>
<g clip-path="url(#c4)" stroke="#000" stroke-width="1" stroke-linecap="square">
<path d="M683.5,716.5V716.5H689.5V716.5Z" fill="#0000FF"/>
<path d="M689.5,716.5V716.5H694.5V716.5Z" fill="#FFFF00"/>
<path d="M699.5,716.5V716.5H704.5V716.5Z" fill="#0000FF"/>
<path d="M704.5,716.5V716.5H709.5V716.5Z" fill="#FFFF00"/>
<path d="M715.5,716.5V716.5H720.5V716.5Z" fill="#0000FF"/>
<path d="M720.5,716.5V716.5H725.5V716.5Z" fill="#FFFF00"/>
<path d="M730.5,716.5V716.5H736.5V716.5Z" fill="#0000FF"/>
<path d="M736.5,716.5V716.5H741.5V716.5Z" fill="#FFFF00"/>
<path d="M746.5,716.5V716.5H751.5V716.5Z" fill="#0000FF"/>
<path d="M751.5,716.5V716.5H756.5V716.5Z" fill="#FFFF00"/>
<path d="M762.5,716.5V716.4H767.5V716.5Z" fill="#0000FF"/>
<path d="M767.5,716.5V716.5H772.5V716.5Z" fill="#FFFF00"/>
<path d="M777.5,716.5V715.9H782.5V716.5Z" fill="#0000FF"/>
<path d="M782.5,716.5V716.5H788.5V716.5Z" fill="#FFFF00"/>
<path d="M793.5,716.5V715.9H798.5V716.5Z" fill="#0000FF"/>
<path d="M798.5,716.5V716.5H803.5V716.5Z" fill="#FFFF00"/>
<path d="M809.5,716.5V715.3H814.5V716.5Z" fill="#0000FF"/>
<path d="M814.5,716.5V716.4H819.5V716.5Z" fill="#FFFF00"/>
<path d="M824.5,716.5V712.4H829.5V716.5Z" fill="#0000FF"/>
<path d="M829.5,716.5V716.2H835.5V716.5Z" fill="#FFFF00"/>
<path d="M840.5,716.5V705.5H845.5V716.5Z" fill="#0000FF"/>
<path d="M845.5,716.5V715.3H850.5V716.5Z" fill="#FFFF00"/>
<path d="M855.5,716.5V654.7H861.5V716.5Z" fill="#0000FF"/>
<path d="M861.5,716.5V686.8H866.5V716.5Z" fill="#FFFF00"/>
<path d="M871.5,716.5V549.4H876.5V716.5Z" fill="#0000FF"/>
<path d="M876.5,716.5V457.8H882.5V716.5Z" fill="#FFFF00"/>
<path d="M887.5,716.5V682.8H892.5V716.5Z" fill="#0000FF"/>
<path d="M892.5,716.5V710.9H897.5V716.5Z" fill="#FFFF00"/>
<path d="M902.5,716.5V710.9H908.5V716.5Z" fill="#0000FF"/>
<path d="M908.5,716.5V715.9H913.5V716.5Z" fill="#FFFF00"/>
<path d="M918.5,716.5V714.8H923.5V716.5Z" fill="#0000FF"/>
<path d="M923.5,716.5V716.4H928.5V716.5Z" fill="#FFFF00"/>
<path d="M934.5,716.5V715.8H939.5V716.5Z" fill="#0000FF"/>
<path d="M939.5,716.5V716.5H944.5V716.5Z" fill="#FFFF00"/>
<path d="M949.5,716.5V715.9H955.5V716.5Z" fill="#0000FF"/>
<path d="M955.5,716.5V716.5H960.5V716.5Z" fill="#FFFF00"/>
<path d="M965.5,716.5V715.9H970.5V716.5Z" fill="#0000FF"/>
<path d="M970.5,716.5V716.5H975.5V716.5Z" fill="#FFFF00"/>
<path d="M981.5,716.5V715.9H986.5V716.5Z" fill="#0000FF"/>
<path d="M986.5,716.5V716.5H991.5V716.5Z" fill="#FFFF00"/>
<path d="M996.5,716.5V716.4H1001.5V716.5Z" fill="#0000FF"/>
<path d="M1001.5,716.5V716.5H1007.5V716.5Z" fill="#FFFF00"/>
<path d="M1012.5,716.5V716.4H1017.5V716.5Z" fill="#0000FF"/>
<path d="M1017.5,716.5V716.5H1022.5V716.5Z" fill="#FFFF00"/>
<path d="M1028.5,716.5V716.5H1033.5V716.5Z" fill="#0000FF"/>
<path d="M1033.5,716.5V716.5H1038.5V716.5Z" fill="#FFFF00"/>
<path d="M1043.5,716.5V716.5H1048.5V716.5Z" fill="#0000FF"/>
<path d="M1048.5,716.5V716.5H1054.5V716.5Z" fill="#FFFF00"/>
<path d="M1059.5,716.5V716.5H1064.5V716.5Z" fill="#0000FF"/>
<path d="M1064.5,716.5V716.5H1069.5V716.5Z" fill="#FFFF00"/>
<path d="M1074.5,716.5V716.5H1080.5V716.5Z" fill="#0000FF"/>
<path d="M1080.5,716.5V716.5H1085.5V716.5Z" fill="#FFFF00"/>
<path d="M1090.5,716.5V716.5H1095.5V716.5Z" fill="#0000FF"/>
<path d="M1095.5,716.5V716.5H1101.5V716.5Z" fill="#FFFF00"/>
<path d="M1106.5,716.5V716.5H1111.5V716.5Z" fill="#0000FF"/>
<path d="M1111.5,716.5V716.5H1116.5V716.5Z" fill="#FFFF00"/>
<path d="M1121.5,716.5V716.5H1127.5V716.5Z" fill="#0000FF"/>
<path d="M1127.5,716.5V716.5H1132.5V716.5Z" fill="#FFFF00"/>
<path d="M1137.5,716.5V716.5H1142.5V716.5Z" fill="#0000FF"/>
<path d="M1142.5,716.5V716.5H1147.5V716.5Z" fill="#FFFF00"/>
</g>
<rect class="bx" x="665.5" y="465.5" width="501" height="253"/>
<path class="tk" d="M665.5,485.5 V716.5 M665.5,716.5 h-8.5 M665.5,670.5 h-8.5 M665.5,624.5 h-8.5 M665.5,577.5 h-8.5 M665.5,531.5 h-8.5 M665.5,485.5 h-8.5"/>
<text class="a" transform="translate(646.5,716.5) rotate(-90)">0</text>
<text class="a" transform="translate(646.5,670.5) rotate(-90)">1000</text>
<text class="a" transform="translate(646.5,624.5) rotate(-90)">2000</text>
<text class="a" transform="translate(646.5,577.5) rotate(-90)">3000</text>
<text class="a" transform="translate(646.5,531.5) rotate(-90)">4000</text>
<text class="a" transform="translate(646.5,485.5) rotate(-90)">5000</text>
<text class="a" x="689.1" y="748" textLength="84.5" lengthAdjust="spacing">[-0.438,-0.403)</text>
<text class="a" x="781.9" y="748" textLength="77.5" lengthAdjust="spacing">[-0.225,-0.19)</text>
<text class="a" x="891.6" y="748" textLength="84.5" lengthAdjust="spacing">[0.0234,0.059)</text>
<text class="a" x="986.3" y="748" textLength="76.5" lengthAdjust="spacing">[0.237,0.272)</text>
<text class="a" x="1079.8" y="748" textLength="69.8" lengthAdjust="spacing">[0.45,0.485)</text>
<text class="a" x="914" y="779.8" textLength="33.5" lengthAdjust="spacing">return</text>
<text class="a" transform="translate(615,592.7) rotate(-90)" textLength="57.5" lengthAdjust="spacing">frequency</text>
<rect x="992.5" y="465.5" width="174" height="48" fill="#fff" stroke="#000" stroke-width="1"/>
<rect x="1004.5" y="477.5" width="9" height="8" fill="#0000FF" stroke="#000" stroke-width="1"/>
<text class="l" x="1024.5" y="486.8" textLength="136" lengthAdjust="spacing">NEWT return frequency</text>
<rect x="1004.5" y="493.5" width="9" height="8" fill="#FFFF00" stroke="#000" stroke-width="1"/>
<text class="l" x="1024.5" y="503" textLength="135" lengthAdjust="spacing">GSPC return frequency</text>
</g>
</svg></body></html>
